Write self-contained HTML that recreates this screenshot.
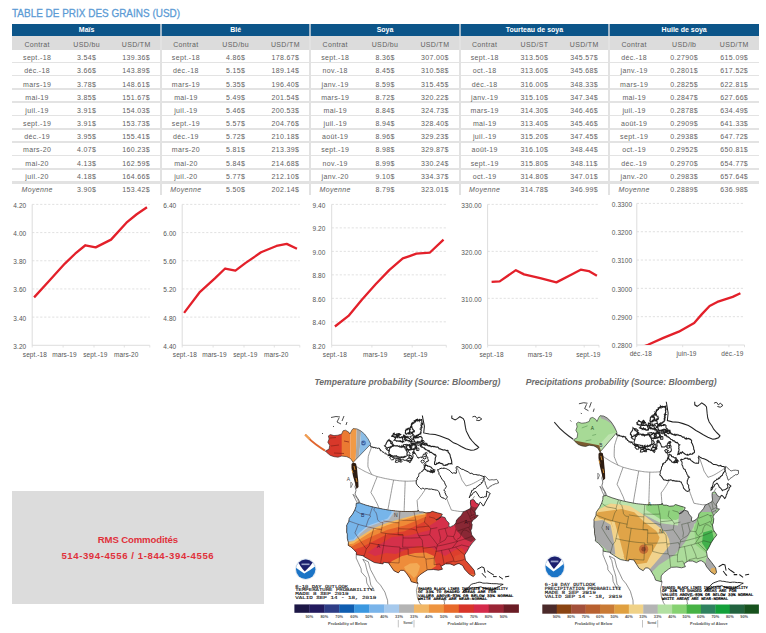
<!DOCTYPE html>
<html><head><meta charset="utf-8"><style>
html,body{margin:0;padding:0;background:#fff;width:766px;height:633px;overflow:hidden;position:relative}
.t{position:absolute;text-align:center;white-space:nowrap;font-family:"Liberation Sans", sans-serif}
svg text{font-family:"Liberation Sans", sans-serif}
.ax{font-size:6.5px;fill:#555;letter-spacing:0.08px}
.cap{font-size:8.6px;font-weight:bold;font-style:italic;fill:#6b6b6b}
</style></head><body>
<div style="position:absolute;left:12.30px;top:23.90px;width:747.00px;height:11.80px;background:#0c5589;"></div><div style="position:absolute;left:12.30px;top:35.70px;width:747.00px;height:14.10px;background:#dcdcdc;"></div><div style="position:absolute;left:12.30px;top:61.50px;width:747.00px;height:1.40px;background:#e3e3e3;"></div><div style="position:absolute;left:12.30px;top:74.83px;width:747.00px;height:1.40px;background:#e3e3e3;"></div><div style="position:absolute;left:12.30px;top:88.16px;width:747.00px;height:1.40px;background:#e3e3e3;"></div><div style="position:absolute;left:12.30px;top:101.49px;width:747.00px;height:1.40px;background:#e3e3e3;"></div><div style="position:absolute;left:12.30px;top:114.82px;width:747.00px;height:1.40px;background:#e3e3e3;"></div><div style="position:absolute;left:12.30px;top:128.15px;width:747.00px;height:1.40px;background:#e3e3e3;"></div><div style="position:absolute;left:12.30px;top:141.48px;width:747.00px;height:1.40px;background:#e3e3e3;"></div><div style="position:absolute;left:12.30px;top:154.81px;width:747.00px;height:1.40px;background:#e3e3e3;"></div><div style="position:absolute;left:12.30px;top:168.14px;width:747.00px;height:1.40px;background:#e3e3e3;"></div><div style="position:absolute;left:12.30px;top:180.77px;width:747.00px;height:2.80px;background:#e2e2e2;"></div><div style="position:absolute;left:160.10px;top:23.90px;width:1.80px;height:11.80px;background:#9fb6c8;"></div><div style="position:absolute;left:160.10px;top:35.70px;width:1.80px;height:159.80px;background:#e2e2e2;"></div><div style="position:absolute;left:309.40px;top:23.90px;width:1.80px;height:11.80px;background:#9fb6c8;"></div><div style="position:absolute;left:309.40px;top:35.70px;width:1.80px;height:159.80px;background:#e2e2e2;"></div><div style="position:absolute;left:458.90px;top:23.90px;width:1.80px;height:11.80px;background:#9fb6c8;"></div><div style="position:absolute;left:458.90px;top:35.70px;width:1.80px;height:159.80px;background:#e2e2e2;"></div><div style="position:absolute;left:608.20px;top:23.90px;width:1.80px;height:11.80px;background:#9fb6c8;"></div><div style="position:absolute;left:608.20px;top:35.70px;width:1.80px;height:159.80px;background:#e2e2e2;"></div><div class="t" style="left:12.30px;top:23.90px;width:148.70px;height:11.80px;line-height:11.80px;color:#fff;font-weight:bold;font-size:7px;">Maïs</div><div class="t" style="left:12.30px;top:37.50px;width:49.57px;height:14.10px;line-height:14.10px;color:#626262;font-size:7px;letter-spacing:0.35px;">Contrat</div><div class="t" style="left:61.87px;top:37.50px;width:49.57px;height:14.10px;line-height:14.10px;color:#626262;font-size:7px;letter-spacing:0.35px;">USD/bu</div><div class="t" style="left:111.43px;top:37.50px;width:49.57px;height:14.10px;line-height:14.10px;color:#626262;font-size:7px;letter-spacing:0.35px;">USD/TM</div><div class="t" style="left:12.30px;top:51.30px;width:49.57px;height:13.33px;line-height:13.33px;color:#626262;font-size:7px;letter-spacing:0.35px;">sept.-18</div><div class="t" style="left:61.87px;top:51.30px;width:49.57px;height:13.33px;line-height:13.33px;color:#626262;font-size:7px;letter-spacing:0.35px;">3.54$</div><div class="t" style="left:111.43px;top:51.30px;width:49.57px;height:13.33px;line-height:13.33px;color:#626262;font-size:7px;letter-spacing:0.35px;">139.36$</div><div class="t" style="left:12.30px;top:64.47px;width:49.57px;height:13.33px;line-height:13.33px;color:#626262;font-size:7px;letter-spacing:0.35px;">déc.-18</div><div class="t" style="left:61.87px;top:64.47px;width:49.57px;height:13.33px;line-height:13.33px;color:#626262;font-size:7px;letter-spacing:0.35px;">3.66$</div><div class="t" style="left:111.43px;top:64.47px;width:49.57px;height:13.33px;line-height:13.33px;color:#626262;font-size:7px;letter-spacing:0.35px;">143.89$</div><div class="t" style="left:12.30px;top:77.64px;width:49.57px;height:13.33px;line-height:13.33px;color:#626262;font-size:7px;letter-spacing:0.35px;">mars-19</div><div class="t" style="left:61.87px;top:77.64px;width:49.57px;height:13.33px;line-height:13.33px;color:#626262;font-size:7px;letter-spacing:0.35px;">3.78$</div><div class="t" style="left:111.43px;top:77.64px;width:49.57px;height:13.33px;line-height:13.33px;color:#626262;font-size:7px;letter-spacing:0.35px;">148.61$</div><div class="t" style="left:12.30px;top:90.81px;width:49.57px;height:13.33px;line-height:13.33px;color:#626262;font-size:7px;letter-spacing:0.35px;">mai-19</div><div class="t" style="left:61.87px;top:90.81px;width:49.57px;height:13.33px;line-height:13.33px;color:#626262;font-size:7px;letter-spacing:0.35px;">3.85$</div><div class="t" style="left:111.43px;top:90.81px;width:49.57px;height:13.33px;line-height:13.33px;color:#626262;font-size:7px;letter-spacing:0.35px;">151.67$</div><div class="t" style="left:12.30px;top:103.98px;width:49.57px;height:13.33px;line-height:13.33px;color:#626262;font-size:7px;letter-spacing:0.35px;">juil.-19</div><div class="t" style="left:61.87px;top:103.98px;width:49.57px;height:13.33px;line-height:13.33px;color:#626262;font-size:7px;letter-spacing:0.35px;">3.91$</div><div class="t" style="left:111.43px;top:103.98px;width:49.57px;height:13.33px;line-height:13.33px;color:#626262;font-size:7px;letter-spacing:0.35px;">154.03$</div><div class="t" style="left:12.30px;top:117.15px;width:49.57px;height:13.33px;line-height:13.33px;color:#626262;font-size:7px;letter-spacing:0.35px;">sept.-19</div><div class="t" style="left:61.87px;top:117.15px;width:49.57px;height:13.33px;line-height:13.33px;color:#626262;font-size:7px;letter-spacing:0.35px;">3.91$</div><div class="t" style="left:111.43px;top:117.15px;width:49.57px;height:13.33px;line-height:13.33px;color:#626262;font-size:7px;letter-spacing:0.35px;">153.73$</div><div class="t" style="left:12.30px;top:130.32px;width:49.57px;height:13.33px;line-height:13.33px;color:#626262;font-size:7px;letter-spacing:0.35px;">déc.-19</div><div class="t" style="left:61.87px;top:130.32px;width:49.57px;height:13.33px;line-height:13.33px;color:#626262;font-size:7px;letter-spacing:0.35px;">3.95$</div><div class="t" style="left:111.43px;top:130.32px;width:49.57px;height:13.33px;line-height:13.33px;color:#626262;font-size:7px;letter-spacing:0.35px;">155.41$</div><div class="t" style="left:12.30px;top:143.49px;width:49.57px;height:13.33px;line-height:13.33px;color:#626262;font-size:7px;letter-spacing:0.35px;">mars-20</div><div class="t" style="left:61.87px;top:143.49px;width:49.57px;height:13.33px;line-height:13.33px;color:#626262;font-size:7px;letter-spacing:0.35px;">4.07$</div><div class="t" style="left:111.43px;top:143.49px;width:49.57px;height:13.33px;line-height:13.33px;color:#626262;font-size:7px;letter-spacing:0.35px;">160.23$</div><div class="t" style="left:12.30px;top:156.66px;width:49.57px;height:13.33px;line-height:13.33px;color:#626262;font-size:7px;letter-spacing:0.35px;">mai-20</div><div class="t" style="left:61.87px;top:156.66px;width:49.57px;height:13.33px;line-height:13.33px;color:#626262;font-size:7px;letter-spacing:0.35px;">4.13$</div><div class="t" style="left:111.43px;top:156.66px;width:49.57px;height:13.33px;line-height:13.33px;color:#626262;font-size:7px;letter-spacing:0.35px;">162.59$</div><div class="t" style="left:12.30px;top:169.83px;width:49.57px;height:13.33px;line-height:13.33px;color:#626262;font-size:7px;letter-spacing:0.35px;">juil.-20</div><div class="t" style="left:61.87px;top:169.83px;width:49.57px;height:13.33px;line-height:13.33px;color:#626262;font-size:7px;letter-spacing:0.35px;">4.18$</div><div class="t" style="left:111.43px;top:169.83px;width:49.57px;height:13.33px;line-height:13.33px;color:#626262;font-size:7px;letter-spacing:0.35px;">164.66$</div><div class="t" style="left:12.30px;top:183.00px;width:49.57px;height:13.33px;line-height:13.33px;color:#626262;font-size:7px;letter-spacing:0.35px;font-style:italic;">Moyenne</div><div class="t" style="left:61.87px;top:183.00px;width:49.57px;height:13.33px;line-height:13.33px;color:#626262;font-size:7px;letter-spacing:0.35px;">3.90$</div><div class="t" style="left:111.43px;top:183.00px;width:49.57px;height:13.33px;line-height:13.33px;color:#626262;font-size:7px;letter-spacing:0.35px;">153.42$</div><div class="t" style="left:161.00px;top:23.90px;width:149.30px;height:11.80px;line-height:11.80px;color:#fff;font-weight:bold;font-size:7px;">Blé</div><div class="t" style="left:161.00px;top:37.50px;width:49.77px;height:14.10px;line-height:14.10px;color:#626262;font-size:7px;letter-spacing:0.35px;">Contrat</div><div class="t" style="left:210.77px;top:37.50px;width:49.77px;height:14.10px;line-height:14.10px;color:#626262;font-size:7px;letter-spacing:0.35px;">USD/bu</div><div class="t" style="left:260.53px;top:37.50px;width:49.77px;height:14.10px;line-height:14.10px;color:#626262;font-size:7px;letter-spacing:0.35px;">USD/TM</div><div class="t" style="left:161.00px;top:51.30px;width:49.77px;height:13.33px;line-height:13.33px;color:#626262;font-size:7px;letter-spacing:0.35px;">sept.-18</div><div class="t" style="left:210.77px;top:51.30px;width:49.77px;height:13.33px;line-height:13.33px;color:#626262;font-size:7px;letter-spacing:0.35px;">4.86$</div><div class="t" style="left:260.53px;top:51.30px;width:49.77px;height:13.33px;line-height:13.33px;color:#626262;font-size:7px;letter-spacing:0.35px;">178.67$</div><div class="t" style="left:161.00px;top:64.47px;width:49.77px;height:13.33px;line-height:13.33px;color:#626262;font-size:7px;letter-spacing:0.35px;">déc.-18</div><div class="t" style="left:210.77px;top:64.47px;width:49.77px;height:13.33px;line-height:13.33px;color:#626262;font-size:7px;letter-spacing:0.35px;">5.15$</div><div class="t" style="left:260.53px;top:64.47px;width:49.77px;height:13.33px;line-height:13.33px;color:#626262;font-size:7px;letter-spacing:0.35px;">189.14$</div><div class="t" style="left:161.00px;top:77.64px;width:49.77px;height:13.33px;line-height:13.33px;color:#626262;font-size:7px;letter-spacing:0.35px;">mars-19</div><div class="t" style="left:210.77px;top:77.64px;width:49.77px;height:13.33px;line-height:13.33px;color:#626262;font-size:7px;letter-spacing:0.35px;">5.35$</div><div class="t" style="left:260.53px;top:77.64px;width:49.77px;height:13.33px;line-height:13.33px;color:#626262;font-size:7px;letter-spacing:0.35px;">196.40$</div><div class="t" style="left:161.00px;top:90.81px;width:49.77px;height:13.33px;line-height:13.33px;color:#626262;font-size:7px;letter-spacing:0.35px;">mai-19</div><div class="t" style="left:210.77px;top:90.81px;width:49.77px;height:13.33px;line-height:13.33px;color:#626262;font-size:7px;letter-spacing:0.35px;">5.49$</div><div class="t" style="left:260.53px;top:90.81px;width:49.77px;height:13.33px;line-height:13.33px;color:#626262;font-size:7px;letter-spacing:0.35px;">201.54$</div><div class="t" style="left:161.00px;top:103.98px;width:49.77px;height:13.33px;line-height:13.33px;color:#626262;font-size:7px;letter-spacing:0.35px;">juil.-19</div><div class="t" style="left:210.77px;top:103.98px;width:49.77px;height:13.33px;line-height:13.33px;color:#626262;font-size:7px;letter-spacing:0.35px;">5.46$</div><div class="t" style="left:260.53px;top:103.98px;width:49.77px;height:13.33px;line-height:13.33px;color:#626262;font-size:7px;letter-spacing:0.35px;">200.53$</div><div class="t" style="left:161.00px;top:117.15px;width:49.77px;height:13.33px;line-height:13.33px;color:#626262;font-size:7px;letter-spacing:0.35px;">sept.-19</div><div class="t" style="left:210.77px;top:117.15px;width:49.77px;height:13.33px;line-height:13.33px;color:#626262;font-size:7px;letter-spacing:0.35px;">5.57$</div><div class="t" style="left:260.53px;top:117.15px;width:49.77px;height:13.33px;line-height:13.33px;color:#626262;font-size:7px;letter-spacing:0.35px;">204.76$</div><div class="t" style="left:161.00px;top:130.32px;width:49.77px;height:13.33px;line-height:13.33px;color:#626262;font-size:7px;letter-spacing:0.35px;">déc.-19</div><div class="t" style="left:210.77px;top:130.32px;width:49.77px;height:13.33px;line-height:13.33px;color:#626262;font-size:7px;letter-spacing:0.35px;">5.72$</div><div class="t" style="left:260.53px;top:130.32px;width:49.77px;height:13.33px;line-height:13.33px;color:#626262;font-size:7px;letter-spacing:0.35px;">210.18$</div><div class="t" style="left:161.00px;top:143.49px;width:49.77px;height:13.33px;line-height:13.33px;color:#626262;font-size:7px;letter-spacing:0.35px;">mars-20</div><div class="t" style="left:210.77px;top:143.49px;width:49.77px;height:13.33px;line-height:13.33px;color:#626262;font-size:7px;letter-spacing:0.35px;">5.81$</div><div class="t" style="left:260.53px;top:143.49px;width:49.77px;height:13.33px;line-height:13.33px;color:#626262;font-size:7px;letter-spacing:0.35px;">213.39$</div><div class="t" style="left:161.00px;top:156.66px;width:49.77px;height:13.33px;line-height:13.33px;color:#626262;font-size:7px;letter-spacing:0.35px;">mai-20</div><div class="t" style="left:210.77px;top:156.66px;width:49.77px;height:13.33px;line-height:13.33px;color:#626262;font-size:7px;letter-spacing:0.35px;">5.84$</div><div class="t" style="left:260.53px;top:156.66px;width:49.77px;height:13.33px;line-height:13.33px;color:#626262;font-size:7px;letter-spacing:0.35px;">214.68$</div><div class="t" style="left:161.00px;top:169.83px;width:49.77px;height:13.33px;line-height:13.33px;color:#626262;font-size:7px;letter-spacing:0.35px;">juil.-20</div><div class="t" style="left:210.77px;top:169.83px;width:49.77px;height:13.33px;line-height:13.33px;color:#626262;font-size:7px;letter-spacing:0.35px;">5.77$</div><div class="t" style="left:260.53px;top:169.83px;width:49.77px;height:13.33px;line-height:13.33px;color:#626262;font-size:7px;letter-spacing:0.35px;">212.10$</div><div class="t" style="left:161.00px;top:183.00px;width:49.77px;height:13.33px;line-height:13.33px;color:#626262;font-size:7px;letter-spacing:0.35px;font-style:italic;">Moyenne</div><div class="t" style="left:210.77px;top:183.00px;width:49.77px;height:13.33px;line-height:13.33px;color:#626262;font-size:7px;letter-spacing:0.35px;">5.50$</div><div class="t" style="left:260.53px;top:183.00px;width:49.77px;height:13.33px;line-height:13.33px;color:#626262;font-size:7px;letter-spacing:0.35px;">202.14$</div><div class="t" style="left:310.30px;top:23.90px;width:149.50px;height:11.80px;line-height:11.80px;color:#fff;font-weight:bold;font-size:7px;">Soya</div><div class="t" style="left:310.30px;top:37.50px;width:49.83px;height:14.10px;line-height:14.10px;color:#626262;font-size:7px;letter-spacing:0.35px;">Contrat</div><div class="t" style="left:360.13px;top:37.50px;width:49.83px;height:14.10px;line-height:14.10px;color:#626262;font-size:7px;letter-spacing:0.35px;">USD/bu</div><div class="t" style="left:409.97px;top:37.50px;width:49.83px;height:14.10px;line-height:14.10px;color:#626262;font-size:7px;letter-spacing:0.35px;">USD/TM</div><div class="t" style="left:310.30px;top:51.30px;width:49.83px;height:13.33px;line-height:13.33px;color:#626262;font-size:7px;letter-spacing:0.35px;">sept.-18</div><div class="t" style="left:360.13px;top:51.30px;width:49.83px;height:13.33px;line-height:13.33px;color:#626262;font-size:7px;letter-spacing:0.35px;">8.36$</div><div class="t" style="left:409.97px;top:51.30px;width:49.83px;height:13.33px;line-height:13.33px;color:#626262;font-size:7px;letter-spacing:0.35px;">307.00$</div><div class="t" style="left:310.30px;top:64.47px;width:49.83px;height:13.33px;line-height:13.33px;color:#626262;font-size:7px;letter-spacing:0.35px;">nov.-18</div><div class="t" style="left:360.13px;top:64.47px;width:49.83px;height:13.33px;line-height:13.33px;color:#626262;font-size:7px;letter-spacing:0.35px;">8.45$</div><div class="t" style="left:409.97px;top:64.47px;width:49.83px;height:13.33px;line-height:13.33px;color:#626262;font-size:7px;letter-spacing:0.35px;">310.58$</div><div class="t" style="left:310.30px;top:77.64px;width:49.83px;height:13.33px;line-height:13.33px;color:#626262;font-size:7px;letter-spacing:0.35px;">janv.-19</div><div class="t" style="left:360.13px;top:77.64px;width:49.83px;height:13.33px;line-height:13.33px;color:#626262;font-size:7px;letter-spacing:0.35px;">8.59$</div><div class="t" style="left:409.97px;top:77.64px;width:49.83px;height:13.33px;line-height:13.33px;color:#626262;font-size:7px;letter-spacing:0.35px;">315.45$</div><div class="t" style="left:310.30px;top:90.81px;width:49.83px;height:13.33px;line-height:13.33px;color:#626262;font-size:7px;letter-spacing:0.35px;">mars-19</div><div class="t" style="left:360.13px;top:90.81px;width:49.83px;height:13.33px;line-height:13.33px;color:#626262;font-size:7px;letter-spacing:0.35px;">8.72$</div><div class="t" style="left:409.97px;top:90.81px;width:49.83px;height:13.33px;line-height:13.33px;color:#626262;font-size:7px;letter-spacing:0.35px;">320.22$</div><div class="t" style="left:310.30px;top:103.98px;width:49.83px;height:13.33px;line-height:13.33px;color:#626262;font-size:7px;letter-spacing:0.35px;">mai-19</div><div class="t" style="left:360.13px;top:103.98px;width:49.83px;height:13.33px;line-height:13.33px;color:#626262;font-size:7px;letter-spacing:0.35px;">8.84$</div><div class="t" style="left:409.97px;top:103.98px;width:49.83px;height:13.33px;line-height:13.33px;color:#626262;font-size:7px;letter-spacing:0.35px;">324.73$</div><div class="t" style="left:310.30px;top:117.15px;width:49.83px;height:13.33px;line-height:13.33px;color:#626262;font-size:7px;letter-spacing:0.35px;">juil.-19</div><div class="t" style="left:360.13px;top:117.15px;width:49.83px;height:13.33px;line-height:13.33px;color:#626262;font-size:7px;letter-spacing:0.35px;">8.94$</div><div class="t" style="left:409.97px;top:117.15px;width:49.83px;height:13.33px;line-height:13.33px;color:#626262;font-size:7px;letter-spacing:0.35px;">328.40$</div><div class="t" style="left:310.30px;top:130.32px;width:49.83px;height:13.33px;line-height:13.33px;color:#626262;font-size:7px;letter-spacing:0.35px;">août-19</div><div class="t" style="left:360.13px;top:130.32px;width:49.83px;height:13.33px;line-height:13.33px;color:#626262;font-size:7px;letter-spacing:0.35px;">8.96$</div><div class="t" style="left:409.97px;top:130.32px;width:49.83px;height:13.33px;line-height:13.33px;color:#626262;font-size:7px;letter-spacing:0.35px;">329.23$</div><div class="t" style="left:310.30px;top:143.49px;width:49.83px;height:13.33px;line-height:13.33px;color:#626262;font-size:7px;letter-spacing:0.35px;">sept.-19</div><div class="t" style="left:360.13px;top:143.49px;width:49.83px;height:13.33px;line-height:13.33px;color:#626262;font-size:7px;letter-spacing:0.35px;">8.98$</div><div class="t" style="left:409.97px;top:143.49px;width:49.83px;height:13.33px;line-height:13.33px;color:#626262;font-size:7px;letter-spacing:0.35px;">329.87$</div><div class="t" style="left:310.30px;top:156.66px;width:49.83px;height:13.33px;line-height:13.33px;color:#626262;font-size:7px;letter-spacing:0.35px;">nov.-19</div><div class="t" style="left:360.13px;top:156.66px;width:49.83px;height:13.33px;line-height:13.33px;color:#626262;font-size:7px;letter-spacing:0.35px;">8.99$</div><div class="t" style="left:409.97px;top:156.66px;width:49.83px;height:13.33px;line-height:13.33px;color:#626262;font-size:7px;letter-spacing:0.35px;">330.24$</div><div class="t" style="left:310.30px;top:169.83px;width:49.83px;height:13.33px;line-height:13.33px;color:#626262;font-size:7px;letter-spacing:0.35px;">janv.-20</div><div class="t" style="left:360.13px;top:169.83px;width:49.83px;height:13.33px;line-height:13.33px;color:#626262;font-size:7px;letter-spacing:0.35px;">9.10$</div><div class="t" style="left:409.97px;top:169.83px;width:49.83px;height:13.33px;line-height:13.33px;color:#626262;font-size:7px;letter-spacing:0.35px;">334.37$</div><div class="t" style="left:310.30px;top:183.00px;width:49.83px;height:13.33px;line-height:13.33px;color:#626262;font-size:7px;letter-spacing:0.35px;font-style:italic;">Moyenne</div><div class="t" style="left:360.13px;top:183.00px;width:49.83px;height:13.33px;line-height:13.33px;color:#626262;font-size:7px;letter-spacing:0.35px;">8.79$</div><div class="t" style="left:409.97px;top:183.00px;width:49.83px;height:13.33px;line-height:13.33px;color:#626262;font-size:7px;letter-spacing:0.35px;">323.01$</div><div class="t" style="left:459.80px;top:23.90px;width:149.30px;height:11.80px;line-height:11.80px;color:#fff;font-weight:bold;font-size:7px;">Tourteau de soya</div><div class="t" style="left:459.80px;top:37.50px;width:49.77px;height:14.10px;line-height:14.10px;color:#626262;font-size:7px;letter-spacing:0.35px;">Contrat</div><div class="t" style="left:509.57px;top:37.50px;width:49.77px;height:14.10px;line-height:14.10px;color:#626262;font-size:7px;letter-spacing:0.35px;">USD/ST</div><div class="t" style="left:559.33px;top:37.50px;width:49.77px;height:14.10px;line-height:14.10px;color:#626262;font-size:7px;letter-spacing:0.35px;">USD/TM</div><div class="t" style="left:459.80px;top:51.30px;width:49.77px;height:13.33px;line-height:13.33px;color:#626262;font-size:7px;letter-spacing:0.35px;">sept.-18</div><div class="t" style="left:509.57px;top:51.30px;width:49.77px;height:13.33px;line-height:13.33px;color:#626262;font-size:7px;letter-spacing:0.35px;">313.50$</div><div class="t" style="left:559.33px;top:51.30px;width:49.77px;height:13.33px;line-height:13.33px;color:#626262;font-size:7px;letter-spacing:0.35px;">345.57$</div><div class="t" style="left:459.80px;top:64.47px;width:49.77px;height:13.33px;line-height:13.33px;color:#626262;font-size:7px;letter-spacing:0.35px;">oct.-18</div><div class="t" style="left:509.57px;top:64.47px;width:49.77px;height:13.33px;line-height:13.33px;color:#626262;font-size:7px;letter-spacing:0.35px;">313.60$</div><div class="t" style="left:559.33px;top:64.47px;width:49.77px;height:13.33px;line-height:13.33px;color:#626262;font-size:7px;letter-spacing:0.35px;">345.68$</div><div class="t" style="left:459.80px;top:77.64px;width:49.77px;height:13.33px;line-height:13.33px;color:#626262;font-size:7px;letter-spacing:0.35px;">déc.-18</div><div class="t" style="left:509.57px;top:77.64px;width:49.77px;height:13.33px;line-height:13.33px;color:#626262;font-size:7px;letter-spacing:0.35px;">316.00$</div><div class="t" style="left:559.33px;top:77.64px;width:49.77px;height:13.33px;line-height:13.33px;color:#626262;font-size:7px;letter-spacing:0.35px;">348.33$</div><div class="t" style="left:459.80px;top:90.81px;width:49.77px;height:13.33px;line-height:13.33px;color:#626262;font-size:7px;letter-spacing:0.35px;">janv.-19</div><div class="t" style="left:509.57px;top:90.81px;width:49.77px;height:13.33px;line-height:13.33px;color:#626262;font-size:7px;letter-spacing:0.35px;">315.10$</div><div class="t" style="left:559.33px;top:90.81px;width:49.77px;height:13.33px;line-height:13.33px;color:#626262;font-size:7px;letter-spacing:0.35px;">347.34$</div><div class="t" style="left:459.80px;top:103.98px;width:49.77px;height:13.33px;line-height:13.33px;color:#626262;font-size:7px;letter-spacing:0.35px;">mars-19</div><div class="t" style="left:509.57px;top:103.98px;width:49.77px;height:13.33px;line-height:13.33px;color:#626262;font-size:7px;letter-spacing:0.35px;">314.30$</div><div class="t" style="left:559.33px;top:103.98px;width:49.77px;height:13.33px;line-height:13.33px;color:#626262;font-size:7px;letter-spacing:0.35px;">346.46$</div><div class="t" style="left:459.80px;top:117.15px;width:49.77px;height:13.33px;line-height:13.33px;color:#626262;font-size:7px;letter-spacing:0.35px;">mai-19</div><div class="t" style="left:509.57px;top:117.15px;width:49.77px;height:13.33px;line-height:13.33px;color:#626262;font-size:7px;letter-spacing:0.35px;">313.40$</div><div class="t" style="left:559.33px;top:117.15px;width:49.77px;height:13.33px;line-height:13.33px;color:#626262;font-size:7px;letter-spacing:0.35px;">345.46$</div><div class="t" style="left:459.80px;top:130.32px;width:49.77px;height:13.33px;line-height:13.33px;color:#626262;font-size:7px;letter-spacing:0.35px;">juil.-19</div><div class="t" style="left:509.57px;top:130.32px;width:49.77px;height:13.33px;line-height:13.33px;color:#626262;font-size:7px;letter-spacing:0.35px;">315.20$</div><div class="t" style="left:559.33px;top:130.32px;width:49.77px;height:13.33px;line-height:13.33px;color:#626262;font-size:7px;letter-spacing:0.35px;">347.45$</div><div class="t" style="left:459.80px;top:143.49px;width:49.77px;height:13.33px;line-height:13.33px;color:#626262;font-size:7px;letter-spacing:0.35px;">août-19</div><div class="t" style="left:509.57px;top:143.49px;width:49.77px;height:13.33px;line-height:13.33px;color:#626262;font-size:7px;letter-spacing:0.35px;">316.10$</div><div class="t" style="left:559.33px;top:143.49px;width:49.77px;height:13.33px;line-height:13.33px;color:#626262;font-size:7px;letter-spacing:0.35px;">348.44$</div><div class="t" style="left:459.80px;top:156.66px;width:49.77px;height:13.33px;line-height:13.33px;color:#626262;font-size:7px;letter-spacing:0.35px;">sept.-19</div><div class="t" style="left:509.57px;top:156.66px;width:49.77px;height:13.33px;line-height:13.33px;color:#626262;font-size:7px;letter-spacing:0.35px;">315.80$</div><div class="t" style="left:559.33px;top:156.66px;width:49.77px;height:13.33px;line-height:13.33px;color:#626262;font-size:7px;letter-spacing:0.35px;">348.11$</div><div class="t" style="left:459.80px;top:169.83px;width:49.77px;height:13.33px;line-height:13.33px;color:#626262;font-size:7px;letter-spacing:0.35px;">oct.-19</div><div class="t" style="left:509.57px;top:169.83px;width:49.77px;height:13.33px;line-height:13.33px;color:#626262;font-size:7px;letter-spacing:0.35px;">314.80$</div><div class="t" style="left:559.33px;top:169.83px;width:49.77px;height:13.33px;line-height:13.33px;color:#626262;font-size:7px;letter-spacing:0.35px;">347.01$</div><div class="t" style="left:459.80px;top:183.00px;width:49.77px;height:13.33px;line-height:13.33px;color:#626262;font-size:7px;letter-spacing:0.35px;font-style:italic;">Moyenne</div><div class="t" style="left:509.57px;top:183.00px;width:49.77px;height:13.33px;line-height:13.33px;color:#626262;font-size:7px;letter-spacing:0.35px;">314.78$</div><div class="t" style="left:559.33px;top:183.00px;width:49.77px;height:13.33px;line-height:13.33px;color:#626262;font-size:7px;letter-spacing:0.35px;">346.99$</div><div class="t" style="left:609.10px;top:23.90px;width:150.20px;height:11.80px;line-height:11.80px;color:#fff;font-weight:bold;font-size:7px;">Huile de soya</div><div class="t" style="left:609.10px;top:37.50px;width:50.07px;height:14.10px;line-height:14.10px;color:#626262;font-size:7px;letter-spacing:0.35px;">Contrat</div><div class="t" style="left:659.17px;top:37.50px;width:50.07px;height:14.10px;line-height:14.10px;color:#626262;font-size:7px;letter-spacing:0.35px;">USD/lb</div><div class="t" style="left:709.23px;top:37.50px;width:50.07px;height:14.10px;line-height:14.10px;color:#626262;font-size:7px;letter-spacing:0.35px;">USD/TM</div><div class="t" style="left:609.10px;top:51.30px;width:50.07px;height:13.33px;line-height:13.33px;color:#626262;font-size:7px;letter-spacing:0.35px;">déc.-18</div><div class="t" style="left:659.17px;top:51.30px;width:50.07px;height:13.33px;line-height:13.33px;color:#626262;font-size:7px;letter-spacing:0.35px;">0.2790$</div><div class="t" style="left:709.23px;top:51.30px;width:50.07px;height:13.33px;line-height:13.33px;color:#626262;font-size:7px;letter-spacing:0.35px;">615.09$</div><div class="t" style="left:609.10px;top:64.47px;width:50.07px;height:13.33px;line-height:13.33px;color:#626262;font-size:7px;letter-spacing:0.35px;">janv.-19</div><div class="t" style="left:659.17px;top:64.47px;width:50.07px;height:13.33px;line-height:13.33px;color:#626262;font-size:7px;letter-spacing:0.35px;">0.2801$</div><div class="t" style="left:709.23px;top:64.47px;width:50.07px;height:13.33px;line-height:13.33px;color:#626262;font-size:7px;letter-spacing:0.35px;">617.52$</div><div class="t" style="left:609.10px;top:77.64px;width:50.07px;height:13.33px;line-height:13.33px;color:#626262;font-size:7px;letter-spacing:0.35px;">mars-19</div><div class="t" style="left:659.17px;top:77.64px;width:50.07px;height:13.33px;line-height:13.33px;color:#626262;font-size:7px;letter-spacing:0.35px;">0.2825$</div><div class="t" style="left:709.23px;top:77.64px;width:50.07px;height:13.33px;line-height:13.33px;color:#626262;font-size:7px;letter-spacing:0.35px;">622.81$</div><div class="t" style="left:609.10px;top:90.81px;width:50.07px;height:13.33px;line-height:13.33px;color:#626262;font-size:7px;letter-spacing:0.35px;">mai-19</div><div class="t" style="left:659.17px;top:90.81px;width:50.07px;height:13.33px;line-height:13.33px;color:#626262;font-size:7px;letter-spacing:0.35px;">0.2847$</div><div class="t" style="left:709.23px;top:90.81px;width:50.07px;height:13.33px;line-height:13.33px;color:#626262;font-size:7px;letter-spacing:0.35px;">627.66$</div><div class="t" style="left:609.10px;top:103.98px;width:50.07px;height:13.33px;line-height:13.33px;color:#626262;font-size:7px;letter-spacing:0.35px;">juil.-19</div><div class="t" style="left:659.17px;top:103.98px;width:50.07px;height:13.33px;line-height:13.33px;color:#626262;font-size:7px;letter-spacing:0.35px;">0.2878$</div><div class="t" style="left:709.23px;top:103.98px;width:50.07px;height:13.33px;line-height:13.33px;color:#626262;font-size:7px;letter-spacing:0.35px;">634.49$</div><div class="t" style="left:609.10px;top:117.15px;width:50.07px;height:13.33px;line-height:13.33px;color:#626262;font-size:7px;letter-spacing:0.35px;">août-19</div><div class="t" style="left:659.17px;top:117.15px;width:50.07px;height:13.33px;line-height:13.33px;color:#626262;font-size:7px;letter-spacing:0.35px;">0.2909$</div><div class="t" style="left:709.23px;top:117.15px;width:50.07px;height:13.33px;line-height:13.33px;color:#626262;font-size:7px;letter-spacing:0.35px;">641.33$</div><div class="t" style="left:609.10px;top:130.32px;width:50.07px;height:13.33px;line-height:13.33px;color:#626262;font-size:7px;letter-spacing:0.35px;">sept.-19</div><div class="t" style="left:659.17px;top:130.32px;width:50.07px;height:13.33px;line-height:13.33px;color:#626262;font-size:7px;letter-spacing:0.35px;">0.2938$</div><div class="t" style="left:709.23px;top:130.32px;width:50.07px;height:13.33px;line-height:13.33px;color:#626262;font-size:7px;letter-spacing:0.35px;">647.72$</div><div class="t" style="left:609.10px;top:143.49px;width:50.07px;height:13.33px;line-height:13.33px;color:#626262;font-size:7px;letter-spacing:0.35px;">oct.-19</div><div class="t" style="left:659.17px;top:143.49px;width:50.07px;height:13.33px;line-height:13.33px;color:#626262;font-size:7px;letter-spacing:0.35px;">0.2952$</div><div class="t" style="left:709.23px;top:143.49px;width:50.07px;height:13.33px;line-height:13.33px;color:#626262;font-size:7px;letter-spacing:0.35px;">650.81$</div><div class="t" style="left:609.10px;top:156.66px;width:50.07px;height:13.33px;line-height:13.33px;color:#626262;font-size:7px;letter-spacing:0.35px;">déc.-19</div><div class="t" style="left:659.17px;top:156.66px;width:50.07px;height:13.33px;line-height:13.33px;color:#626262;font-size:7px;letter-spacing:0.35px;">0.2970$</div><div class="t" style="left:709.23px;top:156.66px;width:50.07px;height:13.33px;line-height:13.33px;color:#626262;font-size:7px;letter-spacing:0.35px;">654.77$</div><div class="t" style="left:609.10px;top:169.83px;width:50.07px;height:13.33px;line-height:13.33px;color:#626262;font-size:7px;letter-spacing:0.35px;">janv.-20</div><div class="t" style="left:659.17px;top:169.83px;width:50.07px;height:13.33px;line-height:13.33px;color:#626262;font-size:7px;letter-spacing:0.35px;">0.2983$</div><div class="t" style="left:709.23px;top:169.83px;width:50.07px;height:13.33px;line-height:13.33px;color:#626262;font-size:7px;letter-spacing:0.35px;">657.64$</div><div class="t" style="left:609.10px;top:183.00px;width:50.07px;height:13.33px;line-height:13.33px;color:#626262;font-size:7px;letter-spacing:0.35px;font-style:italic;">Moyenne</div><div class="t" style="left:659.17px;top:183.00px;width:50.07px;height:13.33px;line-height:13.33px;color:#626262;font-size:7px;letter-spacing:0.35px;">0.2889$</div><div class="t" style="left:709.23px;top:183.00px;width:50.07px;height:13.33px;line-height:13.33px;color:#626262;font-size:7px;letter-spacing:0.35px;">636.98$</div><div class="t" style="left:11.7px;top:5.6px;height:14px;line-height:14px;font-size:11.5px;color:#5b9bd5;white-space:nowrap;text-align:left;transform:scaleX(0.866);transform-origin:0 0;-webkit-text-stroke:0.3px #5b9bd5">TABLE DE PRIX DES GRAINS (USD)</div><svg width="766" height="633" style="position:absolute;left:0;top:0"><text x="26.3" y="348.70" text-anchor="end" class="ax">3.20</text><line x1="32.2" y1="317.12" x2="149.8" y2="317.12" stroke="#d4d4d4" stroke-width="0.7" stroke-dasharray="2.2,1.8"/><text x="26.3" y="320.52" text-anchor="end" class="ax">3.40</text><line x1="32.2" y1="288.94" x2="149.8" y2="288.94" stroke="#d4d4d4" stroke-width="0.7" stroke-dasharray="2.2,1.8"/><text x="26.3" y="292.34" text-anchor="end" class="ax">3.60</text><line x1="32.2" y1="260.76" x2="149.8" y2="260.76" stroke="#d4d4d4" stroke-width="0.7" stroke-dasharray="2.2,1.8"/><text x="26.3" y="264.16" text-anchor="end" class="ax">3.80</text><line x1="32.2" y1="232.58" x2="149.8" y2="232.58" stroke="#d4d4d4" stroke-width="0.7" stroke-dasharray="2.2,1.8"/><text x="26.3" y="235.98" text-anchor="end" class="ax">4.00</text><line x1="32.2" y1="204.40" x2="149.8" y2="204.40" stroke="#d4d4d4" stroke-width="0.7" stroke-dasharray="2.2,1.8"/><text x="26.3" y="207.80" text-anchor="end" class="ax">4.20</text><line x1="32.2" y1="204.4" x2="32.2" y2="345.3" stroke="#d9d9d9" stroke-width="0.9"/><line x1="32.2" y1="345.3" x2="149.8" y2="345.3" stroke="#d9d9d9" stroke-width="0.9"/><line x1="32.2" y1="345.3" x2="32.2" y2="347.5" stroke="#d9d9d9" stroke-width="0.8"/><line x1="63.1" y1="345.3" x2="63.1" y2="347.5" stroke="#d9d9d9" stroke-width="0.8"/><line x1="94.0" y1="345.3" x2="94.0" y2="347.5" stroke="#d9d9d9" stroke-width="0.8"/><line x1="124.3" y1="345.3" x2="124.3" y2="347.5" stroke="#d9d9d9" stroke-width="0.8"/><line x1="149.8" y1="345.3" x2="149.8" y2="347.5" stroke="#d9d9d9" stroke-width="0.8"/><text x="34.9" y="356.90" text-anchor="middle" class="ax">sept.-18</text><text x="64.4" y="356.90" text-anchor="middle" class="ax">mars-19</text><text x="95.3" y="356.90" text-anchor="middle" class="ax">sept.-19</text><text x="126.2" y="356.90" text-anchor="middle" class="ax">mars-20</text><clipPath id="cp0"><rect x="32.2" y="201.4" width="120.60000000000001" height="143.9"/></clipPath><polyline points="34.10,297.39 49.49,280.49 64.88,263.58 75.14,253.72 85.40,245.26 95.66,247.37 111.05,239.62 126.44,222.72 136.70,214.26 146.96,207.22" fill="none" stroke="#e3202a" stroke-width="2.3" stroke-linejoin="round" clip-path="url(#cp0)"/><text x="176.3" y="348.70" text-anchor="end" class="ax">4.40</text><line x1="182.2" y1="317.12" x2="299.8" y2="317.12" stroke="#d4d4d4" stroke-width="0.7" stroke-dasharray="2.2,1.8"/><text x="176.3" y="320.52" text-anchor="end" class="ax">4.80</text><line x1="182.2" y1="288.94" x2="299.8" y2="288.94" stroke="#d4d4d4" stroke-width="0.7" stroke-dasharray="2.2,1.8"/><text x="176.3" y="292.34" text-anchor="end" class="ax">5.20</text><line x1="182.2" y1="260.76" x2="299.8" y2="260.76" stroke="#d4d4d4" stroke-width="0.7" stroke-dasharray="2.2,1.8"/><text x="176.3" y="264.16" text-anchor="end" class="ax">5.60</text><line x1="182.2" y1="232.58" x2="299.8" y2="232.58" stroke="#d4d4d4" stroke-width="0.7" stroke-dasharray="2.2,1.8"/><text x="176.3" y="235.98" text-anchor="end" class="ax">6.00</text><line x1="182.2" y1="204.40" x2="299.8" y2="204.40" stroke="#d4d4d4" stroke-width="0.7" stroke-dasharray="2.2,1.8"/><text x="176.3" y="207.80" text-anchor="end" class="ax">6.40</text><line x1="182.2" y1="204.4" x2="182.2" y2="345.3" stroke="#d9d9d9" stroke-width="0.9"/><line x1="182.2" y1="345.3" x2="299.8" y2="345.3" stroke="#d9d9d9" stroke-width="0.9"/><line x1="182.2" y1="345.3" x2="182.2" y2="347.5" stroke="#d9d9d9" stroke-width="0.8"/><line x1="213.1" y1="345.3" x2="213.1" y2="347.5" stroke="#d9d9d9" stroke-width="0.8"/><line x1="244.0" y1="345.3" x2="244.0" y2="347.5" stroke="#d9d9d9" stroke-width="0.8"/><line x1="274.3" y1="345.3" x2="274.3" y2="347.5" stroke="#d9d9d9" stroke-width="0.8"/><line x1="299.8" y1="345.3" x2="299.8" y2="347.5" stroke="#d9d9d9" stroke-width="0.8"/><text x="184.9" y="356.90" text-anchor="middle" class="ax">sept.-18</text><text x="214.4" y="356.90" text-anchor="middle" class="ax">mars-19</text><text x="245.3" y="356.90" text-anchor="middle" class="ax">sept.-19</text><text x="276.2" y="356.90" text-anchor="middle" class="ax">mars-20</text><clipPath id="cp1"><rect x="182.2" y="201.4" width="120.60000000000002" height="143.9"/></clipPath><polyline points="184.10,312.89 199.49,292.46 214.88,278.37 225.14,268.51 235.40,270.62 245.66,262.87 261.05,252.31 276.44,245.97 286.70,243.85 296.96,248.78" fill="none" stroke="#e3202a" stroke-width="2.3" stroke-linejoin="round" clip-path="url(#cp1)"/><text x="325.5" y="348.70" text-anchor="end" class="ax">8.20</text><line x1="331.7" y1="321.82" x2="446.3" y2="321.82" stroke="#d4d4d4" stroke-width="0.7" stroke-dasharray="2.2,1.8"/><text x="325.5" y="325.22" text-anchor="end" class="ax">8.40</text><line x1="331.7" y1="298.33" x2="446.3" y2="298.33" stroke="#d4d4d4" stroke-width="0.7" stroke-dasharray="2.2,1.8"/><text x="325.5" y="301.73" text-anchor="end" class="ax">8.60</text><line x1="331.7" y1="274.85" x2="446.3" y2="274.85" stroke="#d4d4d4" stroke-width="0.7" stroke-dasharray="2.2,1.8"/><text x="325.5" y="278.25" text-anchor="end" class="ax">8.80</text><line x1="331.7" y1="251.37" x2="446.3" y2="251.37" stroke="#d4d4d4" stroke-width="0.7" stroke-dasharray="2.2,1.8"/><text x="325.5" y="254.77" text-anchor="end" class="ax">9.00</text><line x1="331.7" y1="227.88" x2="446.3" y2="227.88" stroke="#d4d4d4" stroke-width="0.7" stroke-dasharray="2.2,1.8"/><text x="325.5" y="231.28" text-anchor="end" class="ax">9.20</text><line x1="331.7" y1="204.40" x2="446.3" y2="204.40" stroke="#d4d4d4" stroke-width="0.7" stroke-dasharray="2.2,1.8"/><text x="325.5" y="207.80" text-anchor="end" class="ax">9.40</text><line x1="331.7" y1="204.4" x2="331.7" y2="345.3" stroke="#d9d9d9" stroke-width="0.9"/><line x1="331.7" y1="345.3" x2="446.3" y2="345.3" stroke="#d9d9d9" stroke-width="0.9"/><line x1="331.7" y1="345.3" x2="331.7" y2="347.5" stroke="#d9d9d9" stroke-width="0.8"/><line x1="371.9" y1="345.3" x2="371.9" y2="347.5" stroke="#d9d9d9" stroke-width="0.8"/><line x1="412.2" y1="345.3" x2="412.2" y2="347.5" stroke="#d9d9d9" stroke-width="0.8"/><line x1="446.3" y1="345.3" x2="446.3" y2="347.5" stroke="#d9d9d9" stroke-width="0.8"/><text x="334.9" y="356.90" text-anchor="middle" class="ax">sept.-18</text><text x="375.2" y="356.90" text-anchor="middle" class="ax">mars-19</text><text x="415.5" y="356.90" text-anchor="middle" class="ax">sept.-19</text><clipPath id="cp2"><rect x="331.7" y="201.4" width="117.60000000000002" height="143.9"/></clipPath><polyline points="334.90,326.51 348.48,315.95 362.06,299.51 375.64,284.24 389.22,270.15 402.80,258.41 409.59,256.06 416.38,253.71 429.96,252.54 443.54,239.63" fill="none" stroke="#e3202a" stroke-width="2.3" stroke-linejoin="round" clip-path="url(#cp2)"/><text x="481.7" y="348.70" text-anchor="end" class="ax">300.00</text><line x1="487.6" y1="298.33" x2="599.0" y2="298.33" stroke="#d4d4d4" stroke-width="0.7" stroke-dasharray="2.2,1.8"/><text x="481.7" y="301.73" text-anchor="end" class="ax">310.00</text><line x1="487.6" y1="251.37" x2="599.0" y2="251.37" stroke="#d4d4d4" stroke-width="0.7" stroke-dasharray="2.2,1.8"/><text x="481.7" y="254.77" text-anchor="end" class="ax">320.00</text><line x1="487.6" y1="204.40" x2="599.0" y2="204.40" stroke="#d4d4d4" stroke-width="0.7" stroke-dasharray="2.2,1.8"/><text x="481.7" y="207.80" text-anchor="end" class="ax">330.00</text><line x1="487.6" y1="204.4" x2="487.6" y2="345.3" stroke="#d9d9d9" stroke-width="0.9"/><line x1="487.6" y1="345.3" x2="599.0" y2="345.3" stroke="#d9d9d9" stroke-width="0.9"/><line x1="487.6" y1="345.3" x2="487.6" y2="347.5" stroke="#d9d9d9" stroke-width="0.8"/><line x1="535.9" y1="345.3" x2="535.9" y2="347.5" stroke="#d9d9d9" stroke-width="0.8"/><line x1="584.2" y1="345.3" x2="584.2" y2="347.5" stroke="#d9d9d9" stroke-width="0.8"/><line x1="599.0" y1="345.3" x2="599.0" y2="347.5" stroke="#d9d9d9" stroke-width="0.8"/><text x="491.6" y="356.90" text-anchor="middle" class="ax">sept.-18</text><text x="539.9" y="356.90" text-anchor="middle" class="ax">mars-19</text><text x="588.3" y="356.90" text-anchor="middle" class="ax">sept.-19</text><clipPath id="cp3"><rect x="487.6" y="201.4" width="114.39999999999998" height="143.9"/></clipPath><polyline points="491.60,281.89 499.70,281.43 515.90,270.15 524.00,274.38 540.20,278.14 556.40,282.36 572.60,273.91 580.70,269.68 588.80,271.09 596.90,275.79" fill="none" stroke="#e3202a" stroke-width="2.3" stroke-linejoin="round" clip-path="url(#cp3)"/><text x="632.2" y="348.40" text-anchor="end" class="ax">0.2800</text><line x1="636.8" y1="316.68" x2="744.5" y2="316.68" stroke="#d4d4d4" stroke-width="0.7" stroke-dasharray="2.2,1.8"/><text x="632.2" y="320.08" text-anchor="end" class="ax">0.2900</text><line x1="636.8" y1="288.36" x2="744.5" y2="288.36" stroke="#d4d4d4" stroke-width="0.7" stroke-dasharray="2.2,1.8"/><text x="632.2" y="291.76" text-anchor="end" class="ax">0.3000</text><line x1="636.8" y1="260.04" x2="744.5" y2="260.04" stroke="#d4d4d4" stroke-width="0.7" stroke-dasharray="2.2,1.8"/><text x="632.2" y="263.44" text-anchor="end" class="ax">0.3100</text><line x1="636.8" y1="231.72" x2="744.5" y2="231.72" stroke="#d4d4d4" stroke-width="0.7" stroke-dasharray="2.2,1.8"/><text x="632.2" y="235.12" text-anchor="end" class="ax">0.3200</text><line x1="636.8" y1="203.40" x2="744.5" y2="203.40" stroke="#d4d4d4" stroke-width="0.7" stroke-dasharray="2.2,1.8"/><text x="632.2" y="206.80" text-anchor="end" class="ax">0.3300</text><line x1="636.8" y1="203.4" x2="636.8" y2="345.0" stroke="#d9d9d9" stroke-width="0.9"/><line x1="636.8" y1="345.0" x2="744.5" y2="345.0" stroke="#d9d9d9" stroke-width="0.9"/><line x1="636.8" y1="345.0" x2="636.8" y2="347.2" stroke="#d9d9d9" stroke-width="0.8"/><line x1="682.7" y1="345.0" x2="682.7" y2="347.2" stroke="#d9d9d9" stroke-width="0.8"/><line x1="728.9" y1="345.0" x2="728.9" y2="347.2" stroke="#d9d9d9" stroke-width="0.8"/><line x1="744.5" y1="345.0" x2="744.5" y2="347.2" stroke="#d9d9d9" stroke-width="0.8"/><text x="640.8" y="355.50" text-anchor="middle" class="ax">déc.-18</text><text x="686.5" y="355.50" text-anchor="middle" class="ax">juin-19</text><text x="732.4" y="355.50" text-anchor="middle" class="ax">déc.-19</text><clipPath id="cp4"><rect x="636.8" y="200.4" width="110.70000000000005" height="144.6"/></clipPath><polyline points="640.30,347.83 648.00,344.72 663.40,337.92 678.80,331.69 694.20,322.91 701.90,314.13 709.60,305.92 717.30,301.95 732.70,296.86 740.40,293.17" fill="none" stroke="#e3202a" stroke-width="2.3" stroke-linejoin="round" clip-path="url(#cp4)"/><text x="314.4" y="385.0" class="cap">Temperature probability (Source: Bloomberg)</text><text x="525.7" y="385.0" class="cap">Precipitations probability (Source: Bloomberg)</text></svg><div style="position:absolute;left:11.70px;top:490.80px;width:252.30px;height:113.20px;background:#dcdcdc;"></div><div class="t" style="left:11.7px;top:534px;width:252.3px;height:12px;line-height:12px;text-align:center;color:#e0313b;font-size:9.6px;font-weight:bold;letter-spacing:-0.15px">RMS Commodités</div><div class="t" style="left:11.7px;top:550.2px;width:252.3px;height:12px;line-height:12px;text-align:center;color:#e0313b;font-size:9.6px;font-weight:bold;letter-spacing:0.58px">514-394-4556 / 1-844-394-4556</div><svg width="766" height="633" style="position:absolute;left:0;top:0"><style>.ml{font-size:3.9px;fill:#555;font-weight:bold;font-family:"Liberation Sans",sans-serif}.ml2{font-size:3.9px;fill:#555;font-weight:bold;font-family:"Liberation Sans",sans-serif}.ml3{font-size:3px;fill:#555;font-weight:bold;font-family:"Liberation Sans",sans-serif}.mono{font-size:4.6px;fill:#111;font-weight:normal;stroke:#111;stroke-width:0.12;text-rendering:geometricPrecision;font-family:"Liberation Mono",monospace}.mono2{font-size:3.7px;fill:#000;stroke:#000;stroke-width:0.2;text-rendering:geometricPrecision;font-family:"Liberation Mono",monospace}</style><g><clipPath id="topt"><rect x="280" y="415.5" width="250" height="190"/></clipPath><g clip-path="url(#topt)"><polygon points="478.7,447.3 477.0,448.7 474.1,449.9 470.9,450.3 465.7,448.8 461.2,446.5 456.7,443.9 453.5,442.8 448.7,439.3 445.9,438.2 440.1,435.9 435.1,434.5 429.3,433.9 423.7,432.9 424.4,426.2 422.8,418.1 421.1,407.9 452.0,407.7 451.8,418.1 455.1,419.9 457.4,418.6 459.9,416.7 463.2,418.6 464.4,420.8 465.4,427.2 466.2,430.9 468.0,434.5 469.9,438.2 472.2,441.0 475.5,444.5" fill="#fff" stroke="#1e1e1e" stroke-width="1.05"/><path d="M472.4,417 L475,416 L477,418.5 L479,417 L481.8,419 L479,420.7 L476,420" fill="none" stroke="#1e1e1e" stroke-width="0.9"/><polygon points="409.7,446.2 406.3,448.2 404.3,447.0 403.1,444.8 407.1,444.3" fill="#fff" stroke="#1e1e1e" stroke-width="0.95"/><polygon points="419.0,449.4 418.8,450.6 416.5,450.5 416.1,449.4 416.7,447.9 418.8,448.2" fill="#fff" stroke="#1e1e1e" stroke-width="0.95"/><polygon points="419.4,444.5 419.2,445.4 418.2,445.4 416.7,444.5 417.3,443.6 418.6,443.8" fill="#fff" stroke="#1e1e1e" stroke-width="0.95"/><polygon points="427.4,453.3 426.6,454.0 424.7,453.3 426.5,452.4" fill="#fff" stroke="#1e1e1e" stroke-width="0.95"/><polygon points="424.6,461.1 422.4,463.3 420.8,461.1 422.3,460.0" fill="#fff" stroke="#1e1e1e" stroke-width="0.95"/><polygon points="393.3,447.0 392.5,447.7 390.9,447.8 389.9,447.0 390.4,446.0 392.5,446.0" fill="#fff" stroke="#1e1e1e" stroke-width="0.95"/><polygon points="393.7,444.4 393.0,445.2 391.6,445.2 390.3,444.4 391.0,443.7 392.5,443.5" fill="#fff" stroke="#1e1e1e" stroke-width="0.95"/><polygon points="404.0,446.6 402.9,447.8 401.2,447.2 401.7,446.2 403.1,446.0" fill="#fff" stroke="#1e1e1e" stroke-width="0.95"/><polygon points="392.9,442.3 390.3,443.5 388.5,442.3 390.7,440.7" fill="#fff" stroke="#1e1e1e" stroke-width="0.95"/><polygon points="412.1,448.5 412.0,449.6 410.0,449.8 409.1,448.5 410.0,447.5 411.1,447.0" fill="#fff" stroke="#1e1e1e" stroke-width="0.95"/><polygon points="394.0,454.1 392.8,455.3 390.0,455.0 391.3,453.0 392.7,452.1" fill="#fff" stroke="#1e1e1e" stroke-width="0.95"/><polygon points="426.0,457.7 426.0,458.4 424.1,459.1 422.8,457.7 424.1,456.5 425.9,456.3" fill="#fff" stroke="#1e1e1e" stroke-width="0.95"/><polygon points="414.7,437.5 413.6,439.7 411.9,438.6 409.7,436.6 413.0,435.6" fill="#fff" stroke="#1e1e1e" stroke-width="0.95"/><polygon points="408.4,448.7 406.5,449.7 403.7,449.4 404.0,447.6 406.7,446.8" fill="#fff" stroke="#1e1e1e" stroke-width="0.95"/><polygon points="407.4,454.5 403.8,457.1 401.0,454.5 403.7,452.7" fill="#fff" stroke="#1e1e1e" stroke-width="0.95"/><polygon points="402.0,461.4 401.6,462.1 399.7,462.0 400.2,461.4 400.1,460.6 401.6,460.7" fill="#fff" stroke="#1e1e1e" stroke-width="0.95"/><polygon points="424.2,441.4 423.6,442.3 421.7,442.4 421.1,441.4 421.9,440.8 423.6,440.7" fill="#fff" stroke="#1e1e1e" stroke-width="0.95"/><polygon points="423.8,446.2 422.3,447.4 420.6,446.8 420.7,445.5 422.1,444.7" fill="#fff" stroke="#1e1e1e" stroke-width="0.95"/><polygon points="410.7,461.6 409.9,462.9 408.4,461.6 409.7,460.4" fill="#fff" stroke="#1e1e1e" stroke-width="0.95"/><polygon points="408.2,437.4 407.2,438.1 406.9,438.5 405.6,437.4 406.2,436.4 408.2,436.3" fill="#fff" stroke="#1e1e1e" stroke-width="0.95"/><polygon points="391.0,448.8 390.0,450.9 387.0,450.1 385.7,448.8 387.5,446.6 390.0,446.7" fill="#fff" stroke="#1e1e1e" stroke-width="0.95"/><polygon points="418.6,435.3 417.4,436.0 416.1,436.0 415.7,434.7 417.4,434.2" fill="#fff" stroke="#1e1e1e" stroke-width="0.95"/><polygon points="421.6,443.4 420.7,443.9 419.9,444.2 419.2,443.4 419.5,442.7 420.6,442.8" fill="#fff" stroke="#1e1e1e" stroke-width="0.95"/><polygon points="404.1,448.8 403.0,449.5 402.1,448.8 403.3,447.7" fill="#fff" stroke="#1e1e1e" stroke-width="0.95"/><polygon points="415.2,440.6 414.2,442.2 412.4,441.6 410.9,440.6 412.2,439.5 413.9,439.4" fill="#fff" stroke="#1e1e1e" stroke-width="0.95"/><polygon points="394.4,458.0 393.5,459.7 391.5,459.8 389.7,458.0 390.2,456.7 392.5,456.2" fill="#fff" stroke="#1e1e1e" stroke-width="0.95"/><polygon points="410.0,453.4 408.1,455.6 405.0,453.4 408.6,451.6" fill="#fff" stroke="#1e1e1e" stroke-width="0.95"/><polygon points="422.3,427.6 418.3,429.6 415.9,427.6 417.9,425.6" fill="#fff" stroke="#1e1e1e" stroke-width="0.95"/><polygon points="400.3,459.5 400.2,461.2 397.5,461.2 395.7,459.5 396.4,458.1 400.4,458.3" fill="#fff" stroke="#1e1e1e" stroke-width="0.95"/><polygon points="412.2,459.7 409.2,461.3 407.0,460.7 406.8,459.0 409.6,457.9" fill="#fff" stroke="#1e1e1e" stroke-width="0.95"/><polygon points="418.1,439.1 416.3,441.3 413.0,439.1 415.7,437.2" fill="#fff" stroke="#1e1e1e" stroke-width="0.95"/><polygon points="415.0,453.1 413.1,453.8 412.4,453.1 413.0,451.9" fill="#fff" stroke="#1e1e1e" stroke-width="0.95"/><polygon points="399.2,461.3 397.5,462.3 395.3,462.3 395.6,460.6 398.4,459.8" fill="#fff" stroke="#1e1e1e" stroke-width="0.95"/><polygon points="448.0,450.6 448.1,452.2 449.4,453.5 450.0,454.7 450.3,456.4 450.7,457.8 451.4,459.8 451.7,461.3 451.8,463.2 451.8,463.8 451.3,463.2 450.2,463.9 449.1,463.8 448.6,463.7 447.9,464.6 447.3,464.2 446.9,465.0 445.9,464.7 445.8,465.4 445.4,465.5 444.1,465.2 443.2,465.2 442.8,463.9 440.9,463.4 440.0,463.2 439.4,462.4 438.2,462.8 438.0,463.2 438.1,463.6 437.0,463.7 436.7,463.3 436.3,464.3 435.7,464.6 434.6,464.4 434.5,463.6 434.7,461.9 435.0,461.0 435.3,459.9 435.1,459.0 435.3,458.2 435.3,457.8 436.1,456.0 435.7,455.2 435.0,454.5 434.7,455.0 433.5,454.0 432.3,453.1 431.8,452.8 431.5,452.3 429.9,452.6 429.7,451.3 428.9,450.6 428.2,451.3 427.9,450.6 426.6,449.8 425.8,449.8 425.5,449.4 424.7,448.3 424.6,448.7 424.0,448.1 423.3,447.6 422.1,446.9 421.6,445.8 420.7,445.6 420.4,445.6 420.6,444.9 420.9,445.3 421.3,444.4 420.8,444.0 421.1,443.8 422.0,444.4 422.5,443.7 422.7,443.8 422.4,443.5 423.6,443.4 423.8,442.8 423.7,443.5 424.4,443.8 425.7,443.7 425.6,444.6 426.6,444.0 426.5,444.3 428.0,445.3 427.7,445.6 429.2,445.7 429.2,445.8 429.5,445.5 431.1,446.4 431.1,446.8 431.5,446.8 432.5,446.1 432.4,446.2 432.9,446.5 433.5,446.4 433.9,446.9 434.7,446.5 435.5,447.0 435.8,447.0 436.8,447.1 437.8,447.0 438.6,447.7 439.0,448.8 440.2,448.9 441.7,449.5 442.1,449.6 443.1,450.1 443.4,450.0 444.4,449.8 445.8,450.2 446.4,450.6 447.6,450.4 448.0,450.6" fill="#fff" stroke="#1e1e1e" stroke-width="1.1"/><polygon points="407.2,455.6 406.8,455.9 406.2,456.3 405.6,456.3 405.1,457.0 404.8,457.1 404.6,456.6 403.7,457.5 403.4,456.9 402.1,457.1 401.6,456.9 401.1,457.3 401.3,457.5 400.1,457.2 400.2,456.5 399.9,457.4 398.7,457.3 398.4,456.7 398.5,457.0 397.1,456.5 397.0,456.3 396.1,456.2 396.2,455.8 395.4,456.1 394.2,455.9 394.2,456.0 392.9,456.4 393.1,456.3 391.7,455.4 391.0,455.8 390.6,455.0 390.2,455.7 390.0,454.8 388.6,455.4 389.2,453.9 388.7,451.9 389.5,451.0 388.9,450.2 389.7,448.8 389.9,448.2 390.7,447.5 392.0,446.3 392.9,446.2 393.1,445.4 394.0,445.6 394.1,445.6 394.5,445.7 395.4,445.9 396.4,445.9 396.7,445.9 397.1,445.7 397.5,445.8 398.6,446.4 398.4,446.4 399.6,446.0 399.9,446.4 400.0,446.9 400.3,446.5 401.0,447.1 401.0,446.9 401.8,446.7 401.9,446.4 401.9,446.1 402.4,446.8 403.0,446.2 403.2,446.9 404.5,446.7 404.2,446.2 404.6,447.1 404.8,447.7 405.3,448.9 406.5,449.1 406.1,450.2 406.6,450.2 406.7,450.9 407.2,452.5 406.9,454.1 407.2,455.6" fill="#fff" stroke="#1e1e1e" stroke-width="1.1"/><polygon points="384.8,445.7 384.5,445.8 384.9,446.3 385.2,446.3 385.8,446.9 386.4,447.6 386.9,448.1 387.2,448.7 387.4,447.8 388.7,447.3 389.0,447.5 389.0,447.5 390.6,446.9 391.1,446.8 391.2,446.2 392.3,446.2 393.3,445.9 392.6,445.4 392.4,444.7 391.5,443.4 391.0,443.2 390.7,443.2 390.8,442.4 390.7,441.9 390.4,440.6 390.4,441.3 389.7,441.0 389.5,440.3 389.2,440.4 388.2,440.3 388.5,440.1 388.2,440.8 387.2,441.5 386.3,443.2 385.9,444.5 384.8,445.7" fill="#fff" stroke="#1e1e1e" stroke-width="1.1"/><polygon points="421.1,436.9 421.0,436.5 420.1,436.7 420.4,436.8 419.9,436.6 419.0,436.9 419.4,437.4 419.0,437.0 418.5,437.2 418.1,436.9 418.3,437.0 418.0,437.9 416.7,437.4 417.2,438.0 416.5,437.2 415.9,438.0 415.6,437.6 415.2,437.6 415.7,437.2 415.2,437.6 415.0,437.8 413.9,438.0 413.9,437.1 413.0,437.6 413.2,437.4 413.4,438.7 414.2,440.5 414.4,441.7 415.9,442.3 416.4,442.9 416.7,442.3 416.5,442.4 417.6,442.5 417.2,442.3 417.5,441.8 417.7,442.6 418.2,442.6 418.6,441.8 419.2,441.6 419.4,442.4 420.3,442.1 420.4,442.1 421.1,441.6 421.2,441.0 421.6,441.3 422.0,441.4 421.8,440.7 422.9,440.6 422.7,440.8 422.0,439.8 422.2,437.9 421.1,436.9" fill="#fff" stroke="#1e1e1e" stroke-width="1.1"/><polygon points="414.4,436.9 414.9,436.6 415.1,436.5 415.0,436.1 415.3,436.8 415.9,435.9 416.6,436.6 416.4,435.6 416.4,435.4 416.9,435.2 417.0,435.2 417.7,435.8 418.1,435.1 418.0,435.1 418.3,434.7 418.2,434.5 419.4,434.2 419.2,434.5 419.8,433.9 419.5,433.8 419.9,433.8 420.7,434.1 420.9,433.0 420.0,433.2 421.0,432.4 420.8,431.3 420.6,431.7 421.1,431.1 421.3,429.9 420.4,429.2 420.8,429.2 421.3,428.7 421.0,428.2 420.9,427.7 420.5,427.6 420.9,427.5 421.4,426.5 421.0,426.2 421.6,426.4 421.1,425.4 421.7,425.7 421.6,425.0 421.9,424.4 421.7,424.7 422.5,424.6 422.4,424.0 421.7,423.4 422.5,423.5 421.8,422.4 422.0,422.7 421.8,421.9 422.1,422.3 421.6,420.9 421.7,421.0 422.0,420.4 422.1,420.6 421.7,419.7 422.0,419.8 421.6,419.7 420.7,420.3 420.6,420.6 420.6,419.8 420.1,420.0 420.4,420.6 419.6,420.0 419.4,420.7 419.1,419.7 418.8,420.1 419.5,420.6 419.2,420.7 419.2,420.0 418.1,420.7 418.5,419.7 418.3,420.1 417.7,420.0 417.3,419.6 417.2,420.0 417.8,419.7 417.6,419.8 416.7,420.5 417.0,420.0 416.0,420.1 416.1,420.5 415.8,420.1 416.5,419.8 415.8,420.8 416.1,420.1 415.1,420.3 416.0,420.6 415.7,421.5 415.1,420.9 415.7,421.4 414.8,421.7 414.7,421.3 414.2,422.0 415.1,422.0 414.9,421.5 414.0,422.1 414.7,422.7 413.9,422.1 413.8,422.5 414.2,422.3 413.9,423.0 413.8,423.2 413.4,422.8 412.9,423.0 413.3,422.8 412.4,423.6 412.3,423.0 411.9,423.7 412.1,424.2 412.5,424.4 411.7,423.5 411.4,424.4 411.9,424.8 411.3,425.2 411.6,425.9 411.6,426.5 411.3,426.2 411.3,426.8 410.9,427.3 410.9,427.6 410.2,428.1 409.9,429.2 410.1,429.1 410.2,430.4 410.7,430.3 411.3,431.4 411.8,431.4 411.6,432.9 412.4,433.6 411.9,433.6 412.4,434.1 413.7,435.1 414.1,435.5 414.4,436.2 414.4,436.9" fill="#fff" stroke="#1e1e1e" stroke-width="1.1"/><polygon points="411.7,441.9 411.1,442.1 411.5,441.2 410.7,441.7 409.9,441.3 409.5,441.0 409.3,441.3 409.3,440.8 408.3,440.8 408.7,440.5 407.9,440.4 408.1,440.7 406.9,440.1 407.0,440.6 406.9,440.0 406.0,440.5 406.0,440.0 405.5,440.6 405.2,440.1 404.9,439.9 405.1,440.4 405.0,438.0 405.9,436.5 405.4,437.4 406.1,437.4 406.4,437.6 406.8,437.0 406.6,437.5 407.6,438.0 407.3,437.8 408.0,437.8 408.1,437.6 408.8,438.4 408.7,438.1 409.8,438.7 409.4,438.4 410.6,439.9 410.5,439.5 411.4,440.5 411.8,441.4 411.7,441.9" fill="#fff" stroke="#1e1e1e" stroke-width="1.1"/><polygon points="403.8,441.8 403.8,441.4 403.4,441.4 402.6,442.1 402.7,441.3 401.7,441.5 401.7,441.4 400.9,441.2 401.2,441.9 400.1,441.5 400.5,440.8 400.2,440.8 399.6,441.3 399.2,440.9 398.4,441.1 398.0,441.2 397.5,440.8 396.5,441.0 396.6,440.4 396.4,441.0 395.6,440.2 395.1,440.0 394.2,440.3 394.9,439.2 396.1,437.5 396.9,436.4 397.5,437.3 397.7,436.5 398.1,436.9 399.1,436.7 399.4,437.7 399.8,437.6 399.6,437.8 400.4,437.8 401.2,437.0 401.4,437.9 400.9,437.3 402.0,437.1 402.5,437.2 402.7,437.1 402.6,438.7 402.5,438.7 403.0,439.5 402.7,440.0 403.1,441.6 403.8,441.8" fill="#fff" stroke="#1e1e1e" stroke-width="1.1"/><polygon points="414.2,449.4 413.9,449.6 412.9,449.3 412.4,448.9 412.5,448.5 412.4,448.6 411.6,448.7 410.6,448.2 410.7,447.0 410.5,446.2 410.3,445.9 410.0,446.0 410.4,445.2 411.1,444.9 411.6,445.0 411.8,445.6 412.1,445.1 412.2,444.2 412.3,444.2 413.3,444.4 413.5,444.7 413.3,445.2 414.0,446.3 413.5,447.9 414.2,449.4" fill="#fff" stroke="#1e1e1e" stroke-width="1.1"/><polygon points="416.8,449.0 415.8,448.3 415.4,448.1 415.3,447.2 414.8,446.9 413.8,446.9 413.4,445.5 412.8,445.5 413.2,445.2 412.2,443.7 411.3,443.3 412.3,443.1 412.8,443.3 413.5,443.7 413.1,444.0 413.3,443.6 414.1,443.4 414.1,444.1 414.5,443.9 415.9,443.5 415.5,444.1 416.0,445.4 416.6,446.1 416.3,447.5 416.8,449.0" fill="#fff" stroke="#1e1e1e" stroke-width="1.1"/><polygon points="425.8,464.4 426.0,465.4 427.6,465.7 427.6,466.3 429.2,466.3 430.0,466.8 430.2,466.8 431.1,467.2 432.0,468.4 433.5,469.6 434.6,470.0 433.8,470.4 433.5,470.7 432.3,471.0 432.4,470.7 431.7,470.7 430.3,471.1 430.2,472.1 429.6,471.6 428.9,471.0 427.3,471.1 426.9,470.3 426.1,470.0 425.1,469.3 424.5,468.7 424.6,467.6 425.2,466.2 425.1,465.5 425.8,464.4" fill="#fff" stroke="#1e1e1e" stroke-width="1.1"/><polygon points="434.9,471.5 433.8,472.2 433.2,471.4 432.5,472.6 432.2,471.9 431.2,472.0 431.2,472.8 431.5,471.6 431.0,470.1 432.2,470.8 433.5,471.2 433.6,471.6 434.9,471.5" fill="#fff" stroke="#1e1e1e" stroke-width="1.1"/><polygon points="409.8,433.1 410.0,433.7 408.8,432.9 408.5,432.9 409.1,433.8 408.5,433.9 408.3,433.4 407.4,433.3 407.8,433.5 407.1,433.8 406.4,433.7 406.4,434.3 406.3,434.0 406.6,434.2 406.2,434.4 405.2,432.9 405.6,432.1 405.4,430.7 405.9,430.0 406.5,429.7 406.7,429.6 406.1,429.5 407.2,430.2 406.6,429.5 407.4,429.6 407.3,429.1 407.7,429.3 407.8,429.3 408.1,428.3 408.8,428.4 408.4,428.4 408.6,428.3 409.4,429.6 409.5,430.4 409.5,431.7 409.8,433.1" fill="#fff" stroke="#1e1e1e" stroke-width="1.1"/><polygon points="401.0,435.0 400.9,434.6 400.5,434.6 399.2,434.9 399.5,435.2 398.5,435.7 397.9,435.3 397.7,435.6 397.5,435.6 396.6,435.3 395.9,435.9 395.9,436.0 394.8,435.8 395.0,436.2 393.7,436.2 394.0,436.2 392.7,436.4 393.8,436.7 393.8,435.6 394.5,435.5 395.4,435.0 395.8,434.7 397.0,435.0 396.6,434.9 397.2,433.9 398.7,434.0 399.0,433.3 398.8,433.8 399.0,433.6 399.7,433.7 400.1,434.8 400.8,434.7 401.0,435.0" fill="#fff" stroke="#1e1e1e" stroke-width="1.1"/><polygon points="410.7,449.6 410.4,449.6 409.5,449.8 409.3,450.0 409.4,449.6 408.6,450.0 408.0,449.4 407.9,450.1 407.6,449.9 407.2,449.9 406.9,448.3 406.4,447.3 406.1,445.7 407.2,445.9 407.5,445.3 407.6,445.3 408.3,445.1 408.7,445.5 408.6,445.1 409.6,444.6 409.7,445.1 409.4,445.9 409.8,447.4 410.9,448.4 410.7,449.6" fill="#fff" stroke="#1e1e1e" stroke-width="1.1"/><polygon points="415.0,448.7 414.1,448.8 414.2,449.0 413.7,448.9 413.6,448.8 412.7,449.3 412.1,449.0 411.8,449.1 411.6,448.0 411.9,445.7 411.8,444.8 411.9,444.8 412.7,445.0 413.0,444.5 413.3,444.9 414.4,444.6 414.0,444.8 414.6,444.1 414.7,444.6 415.4,445.9 415.0,447.3 415.0,448.7" fill="#fff" stroke="#1e1e1e" stroke-width="1.1"/><polygon points="412.3,458.6 411.5,459.0 411.1,458.6 411.1,458.7 410.2,458.0 409.7,457.8 409.5,457.9 409.0,457.7 409.0,456.4 409.5,455.0 409.5,455.7 410.3,455.3 410.9,455.7 411.5,455.9 412.1,457.1 412.3,458.6" fill="#fff" stroke="#1e1e1e" stroke-width="1.1"/><polygon points="426.8,444.4 426.9,444.9 425.5,444.9 426.0,444.9 424.7,445.0 424.8,444.1 423.7,445.2 424.0,444.5 423.0,444.4 422.9,443.3 423.4,442.6 424.4,443.3 424.0,443.3 424.9,443.2 425.4,443.3 425.9,443.2 425.7,443.0 426.8,444.4" fill="#fff" stroke="#1e1e1e" stroke-width="1.1"/><polygon points="395.6,437.4 395.2,437.6 394.7,437.5 394.4,436.7 393.6,436.4 393.5,436.1 393.0,436.0 392.8,436.3 392.6,436.5 391.7,436.3 391.9,435.8 393.0,435.0 393.4,433.5 394.3,433.3 394.2,434.1 393.9,434.2 395.0,434.8 395.0,435.0 395.6,434.6 396.5,434.3 396.7,435.1 395.8,436.6 395.6,437.4" fill="#fff" stroke="#1e1e1e" stroke-width="1.1"/><polygon points="414.4,431.2 414.0,431.3 414.0,431.8 413.4,431.6 413.4,431.8 413.6,431.7 413.3,431.9 412.7,431.9 412.4,432.8 412.4,432.7 411.7,432.3 411.4,432.7 411.6,433.1 410.6,433.1 411.3,433.0 410.0,431.5 409.6,430.2 410.3,429.4 409.7,428.3 410.2,428.0 410.0,427.9 410.3,427.7 410.5,427.1 410.7,427.3 411.0,426.7 410.6,426.5 411.5,427.3 411.5,426.6 411.9,426.9 411.9,426.9 412.0,427.7 412.3,428.3 413.1,429.4 412.8,429.6 413.1,429.7 414.4,430.7 414.4,431.2" fill="#fff" stroke="#1e1e1e" stroke-width="1.1"/><polygon points="405.5,438.1 405.7,437.9 404.4,437.8 404.7,438.2 404.8,437.6 403.9,437.1 403.8,437.1 403.0,436.7 402.5,437.3 403.1,436.8 403.5,435.8 403.8,435.0 404.7,435.4 405.0,435.5 404.6,436.3 405.6,436.6 405.9,435.9 405.5,438.1" fill="#fff" stroke="#1e1e1e" stroke-width="1.1"/><polygon points="487.4,488.7 486.9,487.2 486.2,485.6 485.4,484.0 485.1,481.5 483.8,480.4 484.6,478.5 484.2,477.5 484.2,476.1 485.6,476.5 486.7,477.9 488.0,479.0 488.9,480.1 490.5,479.9 492.1,479.7 493.3,479.9 495.1,479.8 496.2,479.3 497.5,480.3 498.6,483.0 497.2,483.2 496.6,483.8 495.2,483.7 493.9,484.6 492.7,484.7 492.0,485.6 491.3,485.8 489.8,486.5 489.2,487.4 488.6,488.3 487.4,488.7" fill="#fff" stroke="#1e1e1e" stroke-width="0.7"/><path d="M368.9,443.2 L368.7,444.0 L369.7,444.5 L369.7,444.3 L370.2,445.3 L370.3,445.8 L370.2,445.5 L370.7,446.6 L370.6,447.0 L371.8,446.6 L372.0,447.2 L372.4,446.9 L372.7,447.5 L373.8,447.3 L373.6,447.8 L374.8,447.3 L375.1,448.1 L376.0,447.8 L376.0,448.0 L376.3,447.7 L376.8,448.4 L377.4,448.3 L378.0,448.4 L378.2,448.0 L379.6,448.4 L379.0,449.0 L380.0,448.9 L380.2,449.5 L380.5,449.5 L380.3,450.8 L381.5,450.7 L381.6,450.8 L382.2,451.3 L382.7,452.0 L383.0,452.4 L382.9,451.8 L383.3,452.1 L383.6,452.2 L384.5,453.3 L384.8,453.6 L385.7,452.9 L385.9,453.5 L385.8,454.2 L386.5,454.2 L387.4,454.9 L388.0,454.7 L388.4,454.8 L389.4,455.9 L389.3,455.3 L389.9,455.9 L391.1,456.8 L391.6,456.3 L392.1,457.2 L392.6,457.8 L392.6,457.3 L393.9,458.2 L394.5,457.7 L395.0,458.3 L395.2,458.0 L395.9,457.9 L396.6,458.1 L396.9,458.1 L397.8,458.1 L398.4,458.4 L398.2,459.2 L398.9,459.3 L400.1,459.4 L399.9,459.1 L400.3,459.7 L401.6,459.6 L401.7,459.4 L402.6,459.7 L402.9,459.5 L403.1,459.5 L404.1,460.1 L404.0,460.6 L404.7,460.2 L405.1,460.2 L406.3,460.4 L406.2,460.5 L406.9,461.0 L407.2,461.0 L407.7,461.0 L408.8,460.3 L409.2,460.3 L409.5,460.2 L410.2,461.0 L411.3,460.5 L410.9,459.4 L412.2,458.7 L412.5,458.4 L413.0,456.8 L413.1,455.8 L412.6,454.2 L413.5,453.4 L413.0,452.0 L413.9,450.4 L414.1,451.3 L414.3,452.8 L415.4,453.2 L415.4,453.9 L416.6,455.6 L417.0,456.5 L418.1,458.2 L418.8,458.0 L418.7,457.4 L419.7,457.6 L420.2,457.2 L420.8,457.4 L421.4,457.8 L421.5,456.9 L422.5,457.2 L422.9,456.9 L422.6,456.7 L423.1,455.3 L423.4,455.0 L423.3,454.2 L424.3,454.3 L424.5,454.6 L425.8,454.9 L425.9,454.8 L426.5,454.9 L426.5,456.3 L427.8,457.2 L427.7,458.5 L428.0,459.3 L428.8,460.8 L427.5,460.9 L427.1,462.0 L426.4,461.6 L426.5,462.0 L425.3,462.7 L425.4,462.9 L425.0,462.8 L424.7,463.7 L423.9,464.4 L424.4,466.1 L424.2,467.1 L424.3,468.5 L424.0,469.7 L423.0,469.9 L423.1,470.0 L422.6,471.3 L421.6,471.3 L421.5,471.9 L420.5,472.8 L420.3,472.7 L419.2,473.2 L418.8,474.3 L418.7,475.6 L418.2,477.0 L416.9,478.0 L417.2,479.8 L416.0,480.7 L416.3,482.0 L416.1,483.1 L417.0,484.8 L417.6,485.7 L419.6,487.6 L420.7,488.7 L421.4,489.0 L422.3,488.2 L422.9,488.4 L423.8,488.5 L424.5,489.1 L425.4,488.5 L426.1,488.7 L427.4,488.5 L427.6,488.9 L428.3,489.0 L430.1,489.1 L430.3,489.2 L431.5,489.0 L432.0,489.2 L433.1,489.6 L434.1,489.5 L434.8,489.9 L436.5,490.1 L437.2,490.3 L437.8,490.4 L438.7,491.6 L439.4,492.8 L439.7,494.0 L440.2,495.6 L440.9,497.0 L441.8,497.6 L444.0,498.2 L445.0,499.2 L445.5,499.3 L446.4,498.6 L447.1,497.4 L447.2,496.5 L445.9,495.1 L445.7,494.1 L444.8,492.3 L445.1,491.6 L443.8,489.9 L444.5,489.3 L445.3,488.5 L446.0,487.2 L446.4,486.5 L445.7,485.1 L445.1,484.1 L444.5,482.3 L443.8,481.0 L443.0,480.3 L442.0,479.5 L441.3,477.8 L440.8,477.1 L439.9,475.4 L439.0,474.3 L438.9,472.5 L438.1,471.2 L437.6,469.5 L438.7,469.8 L439.0,469.2 L439.3,468.8 L439.9,468.9 L441.0,468.2 L442.0,468.2 L442.5,468.4 L443.5,467.9 L443.8,468.8 L444.2,468.0 L445.6,468.5 L446.8,468.9 L447.2,469.2 L448.5,469.8 L449.9,470.7 L450.9,471.9 L452.2,473.3 L453.4,472.9 L453.7,472.8 L455.0,473.0 L456.1,473.4 L456.6,471.8 L456.1,470.8 L456.7,469.3 L456.3,468.6 L456.0,467.1 L456.9,466.6 L458.0,466.7 L460.0,468.1 L461.5,469.2 L463.2,469.4 L464.1,470.0 L465.9,470.9 L467.0,471.3 L468.9,472.4 L470.1,473.5 L471.9,473.2 L473.1,474.3 L474.5,474.5 L475.7,474.5 L478.0,475.1 L479.4,475.0 L480.8,475.6 L482.1,476.0 L484.0,476.7 L484.0,477.3 L483.5,478.3 L484.1,479.5 L482.9,480.3 L482.8,481.8 L482.3,482.6 L481.2,482.6 L481.4,483.7 L480.6,484.3 L479.2,484.8 L478.4,486.0 L478.1,486.0 L477.2,486.6 L476.0,487.7 L475.7,488.3 L474.8,488.5 L473.8,488.4 L473.7,489.7 L472.3,490.3 L471.9,490.2 L471.4,492.0 L470.9,493.2 L470.3,493.8 L470.4,494.8 L469.6,496.7 L469.3,497.8 L469.8,496.4 L470.6,495.7 L471.9,495.0 L472.2,494.1 L472.9,493.6 L473.4,492.6 L473.8,492.6 L475.1,491.7 L475.9,491.4 L476.9,492.9 L478.2,494.9 L479.2,496.7 L480.7,497.7 L482.6,497.2 L483.2,497.6 L484.7,496.6 L485.3,496.7 L486.4,496.6 L486.3,495.0 L486.7,492.8 L486.6,491.2 L488.5,492.3 L490.4,493.7 L489.3,494.4 L489.1,495.4 L488.8,496.4 L488.0,497.9 L487.2,499.1 L486.7,500.1 L486.3,501.0 L485.5,501.9 L484.7,503.9 L484.1,505.0 L483.3,506.1 L482.4,504.8 L481.3,503.1 L480.2,502.1 L479.4,503.6 L479.2,504.5" fill="none" stroke="#1e1e1e" stroke-width="1.0"/><path d="M356.1,483.4 L355.0,486.7 L356.0,490.4 L355.0,494.0 L356.1,495.9 L357.3,497.8 L359.1,500.8 L359.8,502.9" fill="none" stroke="#1e1e1e" stroke-width="0.6"/><polygon points="353.0,494.3 354.2,496.8 355.4,499.2 356.5,501.4 357.7,503.6 358.9,504.4 357.8,499.0 356.1,497.5 354.6,495.9 353.0,494.3" fill="#fff" stroke="#1e1e1e" stroke-width="0.5"/><polygon points="350.8,482.1 352.7,483.9 350.8,487.7 350.8,482.1" fill="#fff" stroke="#1e1e1e" stroke-width="0.5"/><path d="M353.0,464.1 L354.2,465.0 L355.3,465.8 L356.5,466.6 L357.7,467.3 L358.9,468.1 L360.2,468.8 L361.4,469.5 L362.6,470.2 L363.9,470.9 L365.2,471.6 L366.5,472.2 L367.8,472.8 L369.1,473.4 L370.4,474.0 L371.8,474.6 L373.1,475.1 L374.5,475.6 L375.8,476.1 L377.2,476.6 L378.9,477.0 L380.5,477.4 L382.2,477.8 L383.9,478.2 L385.6,478.6 L387.3,478.9 L389.0,479.2 L390.7,479.5 L392.1,479.8 L393.6,480.0 L395.0,480.2 L396.5,480.4 L397.9,480.6 L399.4,480.8 L400.8,480.9 L402.3,481.0 L403.8,481.1 L405.2,481.1 L406.8,481.2 L408.3,481.2 L409.9,481.1 L411.4,481.1 L413.0,481.0 L414.5,480.9 L416.1,480.8 M377.2,476.6 L376.2,479.2 L375.1,481.8 L374.1,484.4 L373.0,487.1 L372.0,489.8 L370.9,492.4 L372.2,494.7 L373.6,496.9 L375.3,500.3 L377.1,503.6 L379.1,508.4 M393.6,480.0 L393.1,482.7 L392.5,485.3 L392.0,488.0 L391.5,490.7 L391.0,493.4 L390.5,496.1 L390.0,498.8 L389.4,501.6 L388.9,504.4 L388.4,507.1 L387.8,509.9 M405.2,481.1 L405.1,483.8 L405.0,486.5 L404.9,489.2 L404.8,492.0 L404.7,494.7 L404.6,497.5 L404.5,500.2 L404.4,503.0 L404.3,505.8 L404.2,508.6 L404.1,511.5 M418.1,511.2 L417.7,507.6 L417.4,504.0 L417.1,500.5 L418.8,498.5 L420.4,496.5 L421.9,494.4 L423.3,492.4 L424.7,490.3 L426.0,488.2 M372.1,446.0 L371.1,448.5 L370.1,451.1 L369.2,453.7 L368.3,456.3 L368.1,458.9 L368.0,461.5 L367.9,464.2 L368.0,466.9 L368.7,468.4 L369.4,470.0 L370.1,471.5 L370.9,473.0 L371.8,474.6 M446.5,498.1 L447.7,501.1 L448.9,504.1 L450.2,507.1 L451.4,510.1 L454.3,510.6 L457.3,511.1 L460.3,511.5 L464.0,511.5 M482.9,477.9 L481.1,479.1 L479.2,480.2 L477.3,481.3 L475.4,482.3 L473.5,483.3 L471.6,484.2 L469.8,484.9 L468.0,485.4 L466.1,486.0 L464.1,483.1 L462.0,480.2 L461.0,477.3 L459.9,474.5 L458.8,471.7 L457.6,468.9 L456.5,466.2 M472.7,498.9 L474.6,496.1" stroke="#7a7a7a" stroke-width="0.75" fill="none"/><path d="M356.3,554.7 L356.2,558.1 L358.3,562.7 L361.1,568.8 L361.3,572.0 L366.2,577.5 L366.8,583.0 L370.7,589.8 L374.2,590.7 L373.0,587.6 L370.9,585.5 L370.2,581.8 L369.6,578.2 L368.4,574.4 L367.1,570.7 L366.2,567.1 L365.4,563.5 L362.8,559.3 M362.8,559.3 L368.3,561.8 L369.4,565.7 L370.5,569.6 L373.6,575.4 L376.6,581.1 L380.5,585.2 L384.9,592.1 L386.2,596.2 L387.6,600.4 L387.8,606.0 L392.1,608.8 L396.4,611.5 L400.3,613.1 L404.3,614.8 L408.3,616.3 M418.0,583.4 L416.4,590.3 L416.9,593.8 L417.4,597.4 L419.6,602.8 L423.8,608.2 L429.9,610.8 L434.8,609.5 L439.5,608.2 L444.7,604.0 L443.7,598.6 L448.1,596.9 L452.5,595.2 L456.1,594.4 M388.5,562.9 L392.0,566.2 L395.6,569.4" stroke="#3a3a3a" stroke-width="0.55" fill="none"/><polygon points="463.3,591.3 464.9,589.8 467.1,588.6 468.8,587.2 470.1,585.4 471.7,584.2 473.8,583.5 475.4,583.3 477.3,582.6 479.1,582.2 481.0,582.4 482.8,583.1 485.2,583.2 486.9,583.1 489.1,583.4 491.6,583.6 493.9,583.7 496.8,583.7 499.0,584.1 501.1,584.0 503.2,584.4 501.3,585.0 499.8,586.5 497.6,587.0 496.1,588.3 493.8,589.0 492.0,590.2 489.7,589.7 487.7,588.6 485.4,588.2 483.2,587.8 480.7,586.8 479.2,587.2 477.3,587.6 475.3,587.8 473.4,587.8 471.2,588.1 469.4,588.8 467.6,589.5 465.5,590.2 463.3,591.3" fill="none" stroke="#1a1a1a" stroke-width="0.9"/><path d="M477.3,569.3 L481.7,566.9 L483.9,567.6 L485.1,572.8 M482.0,573.2 L485.0,576.7 L486.1,577.4 M487.2,570.8 L490.1,572.8 L493.9,575.1 M493.1,576.6 L496.7,576.6 M499.0,576.4 L502.9,579.1 M505.0,576.9 L509.2,576.2" stroke="#1a1a1a" stroke-width="1.0" fill="none"/></g><clipPath id="akt"><polygon points="328.4,435.9 330.3,434.6 334.0,435.6 337.9,435.2 341.7,434.0 343.0,430.8 345.5,430.2 348.7,432.1 349.9,434.0 351.8,430.2 353.1,428.6 356.9,428.9 360.7,430.8 364.5,434.0 368.2,439.0 370.8,444.1 353.1,462.4 350.6,458.6 346.8,456.7 341.7,456.1 338.0,457.2 334.1,456.7 330.3,455.4 326.5,452.3 325.3,451.0 329.1,449.1 329.7,445.3 327.8,442.2 329.1,439.0"/></clipPath><polygon points="328.4,435.9 330.3,434.6 334.0,435.6 337.9,435.2 341.7,434.0 343.0,430.8 345.5,430.2 348.7,432.1 349.9,434.0 351.8,430.2 353.1,428.6 356.9,428.9 360.7,430.8 364.5,434.0 368.2,439.0 370.8,444.1 353.1,462.4 350.6,458.6 346.8,456.7 341.7,456.1 338.0,457.2 334.1,456.7 330.3,455.4 326.5,452.3 325.3,451.0 329.1,449.1 329.7,445.3 327.8,442.2 329.1,439.0" fill="#fff"/><g clip-path="url(#akt)"><rect x="320" y="420" width="22" height="45" fill="#d8382a"/><polygon points="341.7,420 350.6,420 350.6,465 341.7,465" fill="#eb7a32"/><polygon points="350.6,420 356.9,420 355.6,465 350.6,465" fill="#f29a46"/><polygon points="356.9,420 361.9,420 359.4,454.2 355.6,465" fill="#a8a8a8"/><polygon points="361.9,420 380,420 380,465 355.6,465 359.4,454.2" fill="#8bbde6"/><path d="M330,438 L336,437.5 M331,446 L339,445 M334,453 L344,453.5 M344,441 L349,442" stroke="#8a2218" stroke-width="0.9" stroke-opacity="0.8"/><circle cx="363.5" cy="443" r="2.2" fill="none" stroke="#3050a0" stroke-width="0.5"/></g><polygon points="328.4,435.9 330.3,434.6 334.0,435.6 337.9,435.2 341.7,434.0 343.0,430.8 345.5,430.2 348.7,432.1 349.9,434.0 351.8,430.2 353.1,428.6 356.9,428.9 360.7,430.8 364.5,434.0 368.2,439.0 370.8,444.1 353.1,462.4 350.6,458.6 346.8,456.7 341.7,456.1 338.0,457.2 334.1,456.7 330.3,455.4 326.5,452.3 325.3,451.0 329.1,449.1 329.7,445.3 327.8,442.2 329.1,439.0" fill="none" stroke="#2a2a2a" stroke-width="0.6"/><path d="M331,417.5 L336,416.5 L340,417 M339,418 L337,422 L341,424 M344,416 L342,421 M347,422 L346,425 M333,426 L334,427 M322,433 L323,434" stroke="#222" stroke-width="0.8" fill="none"/><path d="M305.2,434.6 Q311,441 316,444.5 Q320,447.5 325,450.6" stroke="#e0662f" stroke-width="2.0" fill="none"/><path d="M305.2,434.6 Q308,437.5 310,439" stroke="#f0a050" stroke-width="2" fill="none"/><polygon points="353.1,462.4 356.0,463.5 357.0,468.0 357.5,474.0 358.3,481.0 358.5,487.0 356.5,489.0 355.0,483.0 353.0,476.0 351.5,468.0 351.5,464.0" fill="#2e1d12"/><path d="M354,466 L355,470 M356,478 L357,482 M352,470 L353,473" stroke="#d8902f" stroke-width="0.9" fill="none"/><clipPath id="ust"><polygon points="356.2,503.4 359.8,502.9 361.7,503.7 363.6,504.3 365.5,505.0 367.7,505.6 369.9,506.2 372.1,506.8 374.4,507.3 376.6,507.8 378.9,508.3 381.1,508.7 383.4,509.2 385.5,509.5 387.5,509.9 389.5,510.2 391.5,510.5 393.6,510.7 395.6,510.9 397.6,511.1 399.7,511.3 401.7,511.4 403.8,511.5 405.8,511.5 407.9,511.5 409.9,511.5 411.9,511.5 414.0,511.4 416.0,511.3 418.1,511.2 418.0,510.0 419.3,511.9 422.6,511.9 425.9,512.9 429.9,512.6 432.2,511.3 434.9,512.1 437.8,512.9 440.6,513.6 442.4,514.3 441.0,516.5 438.8,519.1 436.0,520.0 439.1,517.9 441.7,516.6 445.1,517.6 446.1,520.1 449.1,523.2 448.7,526.5 450.4,526.9 453.7,525.3 455.9,523.0 456.6,519.9 459.0,517.6 461.4,515.2 463.2,511.9 465.5,510.9 467.8,509.8 470.1,508.7 470.9,507.0 470.4,502.9 470.6,500.3 472.6,499.5 473.8,499.7 476.1,503.1 479.2,504.5 477.3,507.6 474.9,511.0 475.5,513.7 475.3,515.2 478.2,515.4 475.9,518.0 472.9,520.1 471.3,522.9 472.2,524.5 471.7,528.5 470.8,530.2 471.7,534.9 475.5,539.6 472.4,542.9 469.5,546.8 467.0,551.4 464.5,555.0 465.5,560.2 470.2,565.5 474.2,570.3 475.1,574.5 473.3,576.5 469.2,574.1 464.7,569.3 462.7,565.6 459.0,563.5 456.9,564.0 454.0,565.4 450.1,563.9 445.3,563.9 441.0,566.4 442.5,569.2 438.5,570.2 433.6,569.5 427.8,569.8 424.8,571.5 419.9,574.8 417.2,577.7 417.0,581.5 418.0,583.4 411.3,581.7 409.9,578.2 406.0,572.5 403.8,570.4 400.6,570.3 398.3,572.9 393.9,570.7 391.2,566.8 388.5,562.9 383.4,562.3 383.1,563.9 378.7,563.3 374.3,562.5 370.8,560.6 367.2,558.5 363.6,556.4 364.1,555.9 360.2,555.3 356.3,554.7 356.4,552.4 353.7,549.6 351.5,547.4 348.2,545.3 348.4,542.6 347.3,538.2 347.3,534.2 346.7,532.3 346.8,527.3 346.7,525.3 348.8,521.5 349.2,518.4 352.7,514.0 354.9,509.8 356.0,506.7 356.2,503.4"/></clipPath><g clip-path="url(#ust)"><polygon points="356.2,503.4 359.8,502.9 361.7,503.7 363.6,504.3 365.5,505.0 367.7,505.6 369.9,506.2 372.1,506.8 374.4,507.3 376.6,507.8 378.9,508.3 381.1,508.7 383.4,509.2 385.5,509.5 387.5,509.9 389.5,510.2 391.5,510.5 393.6,510.7 395.6,510.9 397.6,511.1 399.7,511.3 401.7,511.4 403.8,511.5 405.8,511.5 407.9,511.5 409.9,511.5 411.9,511.5 414.0,511.4 416.0,511.3 418.1,511.2 418.0,510.0 419.3,511.9 422.6,511.9 425.9,512.9 429.9,512.6 432.2,511.3 434.9,512.1 437.8,512.9 440.6,513.6 442.4,514.3 441.0,516.5 438.8,519.1 436.0,520.0 439.1,517.9 441.7,516.6 445.1,517.6 446.1,520.1 449.1,523.2 448.7,526.5 450.4,526.9 453.7,525.3 455.9,523.0 456.6,519.9 459.0,517.6 461.4,515.2 463.2,511.9 465.5,510.9 467.8,509.8 470.1,508.7 470.9,507.0 470.4,502.9 470.6,500.3 472.6,499.5 473.8,499.7 476.1,503.1 479.2,504.5 477.3,507.6 474.9,511.0 475.5,513.7 475.3,515.2 478.2,515.4 475.9,518.0 472.9,520.1 471.3,522.9 472.2,524.5 471.7,528.5 470.8,530.2 471.7,534.9 475.5,539.6 472.4,542.9 469.5,546.8 467.0,551.4 464.5,555.0 465.5,560.2 470.2,565.5 474.2,570.3 475.1,574.5 473.3,576.5 469.2,574.1 464.7,569.3 462.7,565.6 459.0,563.5 456.9,564.0 454.0,565.4 450.1,563.9 445.3,563.9 441.0,566.4 442.5,569.2 438.5,570.2 433.6,569.5 427.8,569.8 424.8,571.5 419.9,574.8 417.2,577.7 417.0,581.5 418.0,583.4 411.3,581.7 409.9,578.2 406.0,572.5 403.8,570.4 400.6,570.3 398.3,572.9 393.9,570.7 391.2,566.8 388.5,562.9 383.4,562.3 383.1,563.9 378.7,563.3 374.3,562.5 370.8,560.6 367.2,558.5 363.6,556.4 364.1,555.9 360.2,555.3 356.3,554.7 356.4,552.4 353.7,549.6 351.5,547.4 348.2,545.3 348.4,542.6 347.3,538.2 347.3,534.2 346.7,532.3 346.8,527.3 346.7,525.3 348.8,521.5 349.2,518.4 352.7,514.0 354.9,509.8 356.0,506.7 356.2,503.4" fill="#d5304a"/><polygon points="340.0,500.0 430.0,505.0 430.0,530.0 409.0,535.5 391.9,537.0 377.7,545.5 367.7,552.6 375.0,556.0 386.0,553.0 396.0,554.0 405.0,550.0 418.0,546.0 432.0,548.0 445.0,556.0 455.0,550.0 462.0,548.0 470.0,560.0 480.0,590.0 340.0,590.0" fill="#dd3e2d"/><polygon points="425.0,505.0 443.0,506.0 442.0,515.0 437.0,521.0 425.0,528.4" fill="#db452e"/><polygon points="340.0,500.0 430.0,505.0 425.0,521.3 404.7,531.3 387.6,534.1 373.4,541.2 362.0,546.9 353.5,549.7 340.0,560.0" fill="#e6602b"/><polygon points="340.0,500.0 430.0,505.0 425.0,517.0 404.7,525.6 387.6,529.8 370.6,537.0 359.2,542.6 350.7,546.9 340.0,550.0" fill="#ef8a37"/><polygon points="340.0,500.0 430.0,505.0 425.0,514.5 416.0,516.0 401.8,520.5 387.6,525.0 373.4,530.5 362.0,537.8 353.5,543.4 340.0,546.0" fill="#f4b960"/><polygon points="340.0,500.0 430.0,505.0 425.0,513.2 416.0,514.8 401.8,518.6 387.6,522.8 373.4,528.3 362.0,535.5 353.5,541.0 340.0,544.0" fill="#b2b2b2"/><polygon points="340.0,500.0 394.7,505.0 393.6,513.0 389.0,519.5 369.0,526.5 360.5,533.5 354.5,540.2 340.0,542.0" fill="#a6cbee"/><polygon points="340.0,500.0 391.9,505.0 391.5,513.0 387.6,518.6 367.7,525.8 359.2,532.8 353.5,539.4 340.0,541.0" fill="#77b5ea"/><polygon points="387.0,566.0 392.0,561.0 402.0,556.0 415.0,553.0 426.0,552.6 434.0,556.0 436.0,566.0 430.0,570.0 420.0,590.0 390.0,590.0" fill="#ee8c3a"/><polygon points="404.0,567.0 410.0,563.5 417.0,563.0 420.0,566.0 419.0,570.0 417.0,575.0 414.0,578.0 410.0,574.0 406.0,571.0" fill="#f3aa55"/><polygon points="455.0,556.0 463.0,553.0 466.0,562.0 475.0,570.0 480.0,590.0 452.0,590.0 452.0,563.0" fill="#df4a2f"/><polygon points="470.0,574.0 477.0,574.0 477.0,580.0 470.0,580.0" fill="#e8703a"/><polygon points="452.5,515.5 460.0,516.0 463.8,512.1 469.0,500.0 480.0,498.0 482.0,516.9 476.0,521.6 478.0,537.4 471.0,542.0 465.0,539.5 458.0,532.0 455.0,524.0" fill="#8a2835"/><polygon points="468.0,500.0 482.0,500.0 480.0,506.5 475.0,507.5 471.0,506.0" fill="#d5304a"/><path d="M354.9,509.8 L356.8,511.5 L360.2,513.5 L362.4,513.9 L364.9,514.2 L367.5,514.7 L370.0,515.2 M372.5,506.9 L371.3,510.4 L370.1,514.0 L370.0,515.2 L370.5,516.9 L369.1,518.0 L368.2,519.9 L367.1,523.2 L366.0,526.5 M374.7,507.4 L373.8,510.2 L375.8,512.1 L376.8,514.9 L377.7,519.9 L379.8,522.1 L383.0,522.4 L382.2,526.0 L381.5,529.6 L380.8,532.6 L383.3,533.0 L385.7,533.4 L388.2,533.7 L390.7,534.0 L393.2,534.3 L395.6,534.5 L398.1,534.7 L400.6,534.8 L403.1,534.9 L403.0,537.9 M348.8,520.9 L351.1,521.8 L353.4,522.6 L355.6,523.4 L357.9,524.2 L360.5,525.0 L363.1,525.7 L365.7,526.4 L368.4,527.0 L371.0,527.6 L373.7,528.2 L376.4,528.7 L379.0,529.2 L381.5,529.6 M383.3,520.9 L385.5,521.3 L387.8,521.6 L390.0,521.9 L392.3,522.2 L394.5,522.5 L396.8,522.7 L399.0,522.8 M358.3,524.4 L357.2,527.2 L356.1,530.0 L354.9,532.9 L357.0,536.1 L359.2,539.3 L361.4,542.4 L363.8,545.6 L366.3,548.8 L365.5,551.9 L364.1,555.9 M373.8,528.2 L372.8,531.7 L371.9,535.1 L370.9,538.6 L370.0,542.2 L369.0,545.8 L366.4,548.8 M369.7,543.0 L372.7,543.6 L375.6,544.2 L378.3,544.7 L381.0,545.1 L383.7,545.5 L386.4,545.9 L389.1,546.2 L391.9,546.5 L394.6,546.7 L397.3,546.9 L400.0,547.1 M385.7,533.4 L385.2,536.6 L384.6,539.9 L384.1,543.2 L383.5,546.5 L382.9,549.8 L382.3,553.2 L381.7,556.6 L381.1,560.1 L380.5,563.5 M399.9,511.3 L399.7,514.1 L399.5,517.0 L399.2,519.9 L399.0,522.8 L398.8,525.7 L398.6,528.7 L398.3,531.7 L398.1,534.7 L400.6,534.8 L403.1,534.9 M399.2,520.1 L401.6,520.2 L404.0,520.3 L406.3,520.3 L408.7,520.4 L411.1,520.3 L413.4,520.3 L415.8,520.1 M413.9,511.4 L414.5,514.3 L415.1,517.2 L415.8,520.1 L416.2,523.7 L416.5,527.3 L416.6,530.3 L418.7,535.8 L420.2,537.6 M398.6,528.7 L401.2,528.8 L403.8,528.9 L406.5,529.0 L409.1,529.0 L411.8,529.0 L414.2,529.6 L416.6,530.3 M416.5,527.3 L419.0,527.1 L421.4,526.9 L423.9,526.7 L426.3,526.4 L428.8,526.1 M403.0,537.9 L405.8,538.0 L408.7,538.0 L411.6,538.0 L414.4,537.9 L417.3,537.8 L420.2,537.6 L422.2,540.2 L422.6,544.2 L423.1,548.2 L423.7,552.7 L424.4,557.2 L425.9,559.1 L426.3,562.7 L426.7,566.3 L427.1,569.9 M403.0,537.9 L402.9,541.0 L402.7,544.1 L402.6,547.2 M402.6,547.2 L405.5,547.2 L408.4,547.3 L411.3,547.2 L414.2,547.2 L417.1,547.0 L420.0,546.9 L422.9,546.6 M400.0,547.1 L399.9,548.6 L402.7,548.7 L405.5,548.8 L408.2,548.8 L408.2,555.0 L411.1,555.6 L414.0,556.3 L416.9,556.9 L420.7,557.1 L424.4,557.2 M399.9,548.6 L399.8,552.2 L399.5,555.8 L399.3,559.4 L399.1,563.0 L395.5,562.8 L391.9,562.5 L388.3,562.2 M423.1,548.2 L426.1,547.9 L429.1,547.5 L432.2,547.1 L435.2,546.7 L435.6,548.2 L436.7,548.0 M425.9,559.1 L430.0,558.7 L434.2,558.1 L434.2,561.4 L434.1,564.8 L439.7,563.9 L441.0,566.4 M434.2,558.1 L435.2,554.7 L436.1,551.4 L436.7,548.0 L437.4,544.7 L433.7,539.7 L429.7,534.7 L430.7,528.8 L428.8,526.1 L424.4,522.2 L425.1,518.8 L425.5,517.0 M435.7,551.4 L438.5,551.0 L441.2,550.5 L444.0,549.9 L446.8,549.3 L449.6,548.7 L452.3,548.0 L455.6,547.1 L458.6,546.1 L461.7,545.0 L465.5,545.9 L469.5,546.8 M441.5,550.4 L442.2,554.0 L442.9,557.7 L443.6,561.4 L444.3,565.1 M448.7,548.9 L450.2,551.8 L451.6,554.8 L453.1,557.8 L454.0,561.0 L450.1,561.9 L446.2,562.7 L447.1,564.9 M454.0,561.0 L454.6,561.9 L458.7,561.0 L462.8,560.0 L464.7,559.1 M418.7,535.8 L421.5,535.6 L424.2,535.4 L427.0,535.1 L429.7,534.7 M430.7,528.8 L434.0,528.3 L437.3,527.6 M429.0,516.8 L431.8,517.6 L434.6,518.2 L436.0,520.0 M438.6,529.8 L439.5,533.8 L440.5,537.8 L439.8,541.8 M437.4,544.7 L440.0,542.7 L442.6,541.4 L445.1,540.0 L447.3,536.0 L450.3,536.3 L453.5,536.6 L454.9,533.6 L456.0,528.7 M438.6,529.8 L441.8,529.1 L445.0,528.4 L448.1,527.6 M445.0,528.4 L446.1,532.2 L447.3,536.0 M454.7,524.7 L455.9,527.9 L457.2,531.2 L460.0,530.2 L462.9,529.2 L465.7,528.2 L468.4,527.1 L470.2,530.6 L472.0,529.9 M436.9,546.1 L439.9,545.6 L442.9,545.0 L445.9,544.3 L448.8,543.6 L451.8,542.9 L454.7,542.1 L457.6,541.2 L460.7,540.3 L463.7,539.3 L466.7,538.3 L469.6,537.2 L472.6,536.1 M457.6,541.2 L454.4,539.2 L453.5,536.6 M452.3,548.0 L455.0,544.6 L457.6,541.2 M455.6,547.1 L458.4,549.6 L461.4,552.2 L464.4,554.7 M457.0,539.4 L460.2,537.4 L461.1,533.9 L462.8,530.6 L464.5,530.0 L466.7,530.5 L469.6,532.4 M456.1,523.3 L456.4,524.1 L458.9,523.2 L461.4,522.3 L463.8,521.4 L466.2,520.4 L467.7,521.8 L468.7,521.5 L471.0,521.7 M468.7,521.5 L470.1,525.4 L469.4,527.4 M466.4,510.5 L468.1,513.4 L469.7,516.4 L470.3,518.5 L471.9,521.3 M470.1,508.7 L470.8,512.2 L471.5,515.6 L469.9,516.4 M471.5,515.6 L474.6,514.1 M470.4,518.6 L472.7,517.5 L474.9,516.4 M470.4,507.6 L472.5,510.2 L474.7,512.8 M474.1,516.9 L475.2,518.7" stroke="#3a1010" stroke-width="0.7" stroke-opacity="0.55" fill="none"/></g><polygon points="356.2,503.4 359.8,502.9 361.7,503.7 363.6,504.3 365.5,505.0 367.7,505.6 369.9,506.2 372.1,506.8 374.4,507.3 376.6,507.8 378.9,508.3 381.1,508.7 383.4,509.2 385.5,509.5 387.5,509.9 389.5,510.2 391.5,510.5 393.6,510.7 395.6,510.9 397.6,511.1 399.7,511.3 401.7,511.4 403.8,511.5 405.8,511.5 407.9,511.5 409.9,511.5 411.9,511.5 414.0,511.4 416.0,511.3 418.1,511.2 418.0,510.0 419.3,511.9 422.6,511.9 425.9,512.9 429.9,512.6 432.2,511.3 434.9,512.1 437.8,512.9 440.6,513.6 442.4,514.3 441.0,516.5 438.8,519.1 436.0,520.0 439.1,517.9 441.7,516.6 445.1,517.6 446.1,520.1 449.1,523.2 448.7,526.5 450.4,526.9 453.7,525.3 455.9,523.0 456.6,519.9 459.0,517.6 461.4,515.2 463.2,511.9 465.5,510.9 467.8,509.8 470.1,508.7 470.9,507.0 470.4,502.9 470.6,500.3 472.6,499.5 473.8,499.7 476.1,503.1 479.2,504.5 477.3,507.6 474.9,511.0 475.5,513.7 475.3,515.2 478.2,515.4 475.9,518.0 472.9,520.1 471.3,522.9 472.2,524.5 471.7,528.5 470.8,530.2 471.7,534.9 475.5,539.6 472.4,542.9 469.5,546.8 467.0,551.4 464.5,555.0 465.5,560.2 470.2,565.5 474.2,570.3 475.1,574.5 473.3,576.5 469.2,574.1 464.7,569.3 462.7,565.6 459.0,563.5 456.9,564.0 454.0,565.4 450.1,563.9 445.3,563.9 441.0,566.4 442.5,569.2 438.5,570.2 433.6,569.5 427.8,569.8 424.8,571.5 419.9,574.8 417.2,577.7 417.0,581.5 418.0,583.4 411.3,581.7 409.9,578.2 406.0,572.5 403.8,570.4 400.6,570.3 398.3,572.9 393.9,570.7 391.2,566.8 388.5,562.9 383.4,562.3 383.1,563.9 378.7,563.3 374.3,562.5 370.8,560.6 367.2,558.5 363.6,556.4 364.1,555.9 360.2,555.3 356.3,554.7 356.4,552.4 353.7,549.6 351.5,547.4 348.2,545.3 348.4,542.6 347.3,538.2 347.3,534.2 346.7,532.3 346.8,527.3 346.7,525.3 348.8,521.5 349.2,518.4 352.7,514.0 354.9,509.8 356.0,506.7 356.2,503.4" fill="none" stroke="#222" stroke-width="0.7"/><text x="363.5" y="445" text-anchor="middle" style="font-size:5px;font-family:Liberation Sans,sans-serif;fill:#1a3a7a">B</text><text x="348.5" y="481" text-anchor="middle" style="font-size:5px;font-family:Liberation Sans,sans-serif;fill:#444">A</text><text x="362.7" y="516.8" text-anchor="middle" style="font-size:5px;font-family:Liberation Sans,sans-serif;fill:#1a2a5a">B</text><text x="395.9" y="517" text-anchor="middle" style="font-size:5px;font-family:Liberation Sans,sans-serif;fill:#333">N</text><text x="378.5" y="548" text-anchor="middle" style="font-size:5px;font-family:Liberation Sans,sans-serif;fill:#4a1020">A</text><text x="466" y="524" text-anchor="middle" style="font-size:5px;font-family:Liberation Sans,sans-serif;fill:#2a0a10">A</text><clipPath id="noaat"><circle cx="305.7" cy="569.3" r="9.7"/></clipPath><circle cx="305.7" cy="569.3" r="10.7" fill="#e3e8f0"/><circle cx="305.7" cy="569.3" r="9.7" fill="#1b74c6"/><g clip-path="url(#noaat)"><path d="M294,558 L318,558 L318,564.2 Q311,569.8 304.3,573.6 Q299,570.3 294,566.3 Z" fill="#ffffff"/><path d="M296.8,559 L315.3,559 Q310.5,566.5 304.8,571.4 Q300,566.8 296.8,559 Z" fill="#1c1f6e"/></g><rect x="301.5" y="563.5" width="8" height="1.6" fill="#b8c0e0" opacity="0.8"/><text x="295.2" y="587.5" class="mono" textLength="53" lengthAdjust="spacingAndGlyphs">6-10 DAY OUTLOOK</text><text x="295.2" y="591.1" class="mono" textLength="78" lengthAdjust="spacingAndGlyphs">TEMPERATURE PROBABILITY</text><text x="295.2" y="594.9" class="mono" textLength="53.5" lengthAdjust="spacingAndGlyphs">MADE 8 SEP 2019</text><text x="295.2" y="598.8" class="mono" textLength="81" lengthAdjust="spacingAndGlyphs">VALID SEP 14 - 18, 2019</text><text x="418" y="590.2" class="mono2" textLength="89.7" lengthAdjust="spacingAndGlyphs">SHADED BLACK LINES INDICATE PROBABILITY</text><text x="418" y="592.8" class="mono2" textLength="78" lengthAdjust="spacingAndGlyphs">OF 33% TO SHADED AREAS ARE FOR</text><text x="418" y="596.9" class="mono2" textLength="95.5" lengthAdjust="spacingAndGlyphs">VALUES ABOVE 33% OR BELOW 33% NORMAL</text><text x="418" y="600.2" class="mono2" textLength="69.2" lengthAdjust="spacingAndGlyphs">WHITE AREAS ARE NEAR-NORMAL</text></g><rect x="294.40" y="604.4" width="15.25" height="8.4" fill="#1c1745"/><rect x="309.35" y="604.4" width="15.25" height="8.4" fill="#221a5e"/><rect x="324.29" y="604.4" width="15.25" height="8.4" fill="#2e3d86"/><rect x="339.24" y="604.4" width="15.25" height="8.4" fill="#0f5db0"/><rect x="354.19" y="604.4" width="15.25" height="8.4" fill="#3b98e0"/><rect x="369.13" y="604.4" width="15.25" height="8.4" fill="#79b4ea"/><rect x="384.08" y="604.4" width="15.25" height="8.4" fill="#a6c9ec"/><rect x="399.03" y="604.4" width="15.25" height="8.4" fill="#b4b4b4"/><rect x="413.97" y="604.4" width="15.25" height="8.4" fill="#f1b766"/><rect x="428.92" y="604.4" width="15.25" height="8.4" fill="#ee9440"/><rect x="443.87" y="604.4" width="15.25" height="8.4" fill="#e86a2a"/><rect x="458.81" y="604.4" width="15.25" height="8.4" fill="#d8352a"/><rect x="473.76" y="604.4" width="15.25" height="8.4" fill="#d52a4a"/><rect x="488.71" y="604.4" width="15.25" height="8.4" fill="#9a2535"/><rect x="503.65" y="604.4" width="15.25" height="8.4" fill="#6a1c25"/><text x="309.3" y="617.5" class="ml" text-anchor="middle">90%</text><text x="324.3" y="617.5" class="ml" text-anchor="middle">80%</text><text x="339.2" y="617.5" class="ml" text-anchor="middle">70%</text><text x="354.2" y="617.5" class="ml" text-anchor="middle">60%</text><text x="369.1" y="617.5" class="ml" text-anchor="middle">50%</text><text x="384.1" y="617.5" class="ml" text-anchor="middle">40%</text><text x="399.0" y="617.5" class="ml" text-anchor="middle">33%</text><text x="414.0" y="617.5" class="ml" text-anchor="middle">33%</text><text x="428.9" y="617.5" class="ml" text-anchor="middle">40%</text><text x="443.9" y="617.5" class="ml" text-anchor="middle">50%</text><text x="458.8" y="617.5" class="ml" text-anchor="middle">60%</text><text x="473.8" y="617.5" class="ml" text-anchor="middle">70%</text><text x="488.7" y="617.5" class="ml" text-anchor="middle">80%</text><text x="503.7" y="617.5" class="ml" text-anchor="middle">90%</text><text x="347.5" y="625.0" class="ml2" text-anchor="middle" textLength="39.0" lengthAdjust="spacingAndGlyphs">Probability of Below</text><text x="467.0" y="625.0" class="ml2" text-anchor="middle" textLength="39.0" lengthAdjust="spacingAndGlyphs">Probability of Above</text><text x="408.0" y="624.2" class="ml3" text-anchor="middle" textLength="9.0" lengthAdjust="spacingAndGlyphs">Normal</text><path d="M398.3,619.9 L398.3,627.4 M414.0,619.9 L414.0,627.4" stroke="#9a9a9a" stroke-width="0.6"/><g transform="matrix(0.955,0,0,1.074,262.824,-44.611)"><clipPath id="topp"><rect x="280" y="415.5" width="250" height="190"/></clipPath><g clip-path="url(#topp)"><polygon points="478.7,447.3 477.2,449.1 473.8,450.2 471.2,450.5 466.0,448.6 461.2,446.4 456.9,444.0 453.5,442.3 449.1,439.6 445.6,437.7 440.0,436.0 435.1,434.7 428.9,434.3 423.6,433.2 424.4,426.2 423.0,418.2 420.8,408.1 452.1,408.0 452.3,418.5 454.7,419.9 457.4,418.3 459.6,416.6 462.8,418.6 464.6,420.4 465.3,426.9 465.9,430.8 467.4,434.5 470.3,438.2 472.1,441.2 475.5,444.5" fill="#fff" stroke="#1e1e1e" stroke-width="1.05"/><path d="M472.4,417 L475,416 L477,418.5 L479,417 L481.8,419 L479,420.7 L476,420" fill="none" stroke="#1e1e1e" stroke-width="0.9"/><polygon points="409.7,446.2 406.3,448.2 404.3,447.0 403.1,444.8 407.1,444.3" fill="#fff" stroke="#1e1e1e" stroke-width="0.95"/><polygon points="419.0,449.4 418.8,450.6 416.5,450.5 416.1,449.4 416.7,447.9 418.8,448.2" fill="#fff" stroke="#1e1e1e" stroke-width="0.95"/><polygon points="419.4,444.5 419.2,445.4 418.2,445.4 416.7,444.5 417.3,443.6 418.6,443.8" fill="#fff" stroke="#1e1e1e" stroke-width="0.95"/><polygon points="427.4,453.3 426.6,454.0 424.7,453.3 426.5,452.4" fill="#fff" stroke="#1e1e1e" stroke-width="0.95"/><polygon points="424.6,461.1 422.4,463.3 420.8,461.1 422.3,460.0" fill="#fff" stroke="#1e1e1e" stroke-width="0.95"/><polygon points="393.3,447.0 392.5,447.7 390.9,447.8 389.9,447.0 390.4,446.0 392.5,446.0" fill="#fff" stroke="#1e1e1e" stroke-width="0.95"/><polygon points="393.7,444.4 393.0,445.2 391.6,445.2 390.3,444.4 391.0,443.7 392.5,443.5" fill="#fff" stroke="#1e1e1e" stroke-width="0.95"/><polygon points="404.0,446.6 402.9,447.8 401.2,447.2 401.7,446.2 403.1,446.0" fill="#fff" stroke="#1e1e1e" stroke-width="0.95"/><polygon points="392.9,442.3 390.3,443.5 388.5,442.3 390.7,440.7" fill="#fff" stroke="#1e1e1e" stroke-width="0.95"/><polygon points="412.1,448.5 412.0,449.6 410.0,449.8 409.1,448.5 410.0,447.5 411.1,447.0" fill="#fff" stroke="#1e1e1e" stroke-width="0.95"/><polygon points="394.0,454.1 392.8,455.3 390.0,455.0 391.3,453.0 392.7,452.1" fill="#fff" stroke="#1e1e1e" stroke-width="0.95"/><polygon points="426.0,457.7 426.0,458.4 424.1,459.1 422.8,457.7 424.1,456.5 425.9,456.3" fill="#fff" stroke="#1e1e1e" stroke-width="0.95"/><polygon points="414.7,437.5 413.6,439.7 411.9,438.6 409.7,436.6 413.0,435.6" fill="#fff" stroke="#1e1e1e" stroke-width="0.95"/><polygon points="408.4,448.7 406.5,449.7 403.7,449.4 404.0,447.6 406.7,446.8" fill="#fff" stroke="#1e1e1e" stroke-width="0.95"/><polygon points="407.4,454.5 403.8,457.1 401.0,454.5 403.7,452.7" fill="#fff" stroke="#1e1e1e" stroke-width="0.95"/><polygon points="402.0,461.4 401.6,462.1 399.7,462.0 400.2,461.4 400.1,460.6 401.6,460.7" fill="#fff" stroke="#1e1e1e" stroke-width="0.95"/><polygon points="424.2,441.4 423.6,442.3 421.7,442.4 421.1,441.4 421.9,440.8 423.6,440.7" fill="#fff" stroke="#1e1e1e" stroke-width="0.95"/><polygon points="423.8,446.2 422.3,447.4 420.6,446.8 420.7,445.5 422.1,444.7" fill="#fff" stroke="#1e1e1e" stroke-width="0.95"/><polygon points="410.7,461.6 409.9,462.9 408.4,461.6 409.7,460.4" fill="#fff" stroke="#1e1e1e" stroke-width="0.95"/><polygon points="408.2,437.4 407.2,438.1 406.9,438.5 405.6,437.4 406.2,436.4 408.2,436.3" fill="#fff" stroke="#1e1e1e" stroke-width="0.95"/><polygon points="391.0,448.8 390.0,450.9 387.0,450.1 385.7,448.8 387.5,446.6 390.0,446.7" fill="#fff" stroke="#1e1e1e" stroke-width="0.95"/><polygon points="418.6,435.3 417.4,436.0 416.1,436.0 415.7,434.7 417.4,434.2" fill="#fff" stroke="#1e1e1e" stroke-width="0.95"/><polygon points="421.6,443.4 420.7,443.9 419.9,444.2 419.2,443.4 419.5,442.7 420.6,442.8" fill="#fff" stroke="#1e1e1e" stroke-width="0.95"/><polygon points="404.1,448.8 403.0,449.5 402.1,448.8 403.3,447.7" fill="#fff" stroke="#1e1e1e" stroke-width="0.95"/><polygon points="415.2,440.6 414.2,442.2 412.4,441.6 410.9,440.6 412.2,439.5 413.9,439.4" fill="#fff" stroke="#1e1e1e" stroke-width="0.95"/><polygon points="394.4,458.0 393.5,459.7 391.5,459.8 389.7,458.0 390.2,456.7 392.5,456.2" fill="#fff" stroke="#1e1e1e" stroke-width="0.95"/><polygon points="410.0,453.4 408.1,455.6 405.0,453.4 408.6,451.6" fill="#fff" stroke="#1e1e1e" stroke-width="0.95"/><polygon points="422.3,427.6 418.3,429.6 415.9,427.6 417.9,425.6" fill="#fff" stroke="#1e1e1e" stroke-width="0.95"/><polygon points="400.3,459.5 400.2,461.2 397.5,461.2 395.7,459.5 396.4,458.1 400.4,458.3" fill="#fff" stroke="#1e1e1e" stroke-width="0.95"/><polygon points="412.2,459.7 409.2,461.3 407.0,460.7 406.8,459.0 409.6,457.9" fill="#fff" stroke="#1e1e1e" stroke-width="0.95"/><polygon points="418.1,439.1 416.3,441.3 413.0,439.1 415.7,437.2" fill="#fff" stroke="#1e1e1e" stroke-width="0.95"/><polygon points="415.0,453.1 413.1,453.8 412.4,453.1 413.0,451.9" fill="#fff" stroke="#1e1e1e" stroke-width="0.95"/><polygon points="399.2,461.3 397.5,462.3 395.3,462.3 395.6,460.6 398.4,459.8" fill="#fff" stroke="#1e1e1e" stroke-width="0.95"/><polygon points="448.0,450.6 449.1,452.1 448.7,453.4 449.6,454.5 450.2,455.8 451.1,458.0 451.2,459.8 451.9,460.9 452.0,462.6 451.1,463.5 451.4,463.2 450.0,463.8 450.0,464.3 448.6,464.4 448.7,464.5 447.5,464.1 447.4,464.4 446.2,464.9 445.6,465.3 444.7,464.6 444.4,465.4 443.7,465.0 442.7,464.7 441.3,463.7 439.9,463.0 439.4,462.2 438.9,462.5 438.1,463.6 437.1,462.8 437.0,463.2 436.7,463.3 436.3,464.4 435.6,464.2 434.5,464.6 435.0,463.4 435.0,462.4 435.5,461.8 435.9,460.0 435.4,459.3 435.8,458.2 435.5,456.9 435.7,456.3 436.5,455.8 435.6,455.4 434.9,454.6 433.9,453.5 432.9,453.7 431.7,453.2 431.7,452.6 430.5,451.9 429.5,452.1 428.4,450.8 428.4,450.7 427.0,450.5 426.7,450.0 426.1,449.5 425.6,449.0 424.4,448.3 424.7,448.3 423.2,448.1 422.7,446.8 422.4,446.6 421.8,446.4 420.9,446.0 420.2,445.4 420.2,444.5 420.3,444.3 420.7,444.9 421.2,444.6 421.8,443.7 422.4,444.2 421.7,444.1 422.4,443.1 423.4,443.4 423.5,442.7 423.8,442.4 423.8,443.0 424.1,443.6 424.9,443.6 426.0,444.0 426.8,444.5 427.3,444.7 428.0,445.4 427.7,445.5 428.5,445.8 429.5,446.1 429.5,445.9 430.8,446.7 431.3,445.8 431.7,445.9 432.2,446.7 432.3,446.9 433.4,446.2 433.4,446.4 434.7,446.6 434.4,446.0 435.0,446.8 435.6,446.6 436.6,447.2 437.6,447.1 439.1,448.1 439.8,448.8 441.0,448.4 441.3,449.0 442.3,450.0 443.4,449.3 443.5,450.3 444.9,450.0 445.5,449.8 446.7,450.2 447.6,450.6 448.0,450.6" fill="#fff" stroke="#1e1e1e" stroke-width="1.1"/><polygon points="407.2,455.6 406.2,455.7 405.8,456.5 405.7,455.8 404.8,456.3 404.6,456.8 404.0,456.7 403.0,457.1 402.9,456.7 402.5,457.7 401.5,456.8 401.7,456.9 400.8,457.1 400.3,457.1 400.0,457.4 400.0,456.4 399.1,457.1 398.9,457.0 398.1,456.8 397.3,456.3 397.3,456.9 397.0,456.6 395.7,456.6 395.6,456.2 394.8,455.9 394.1,455.9 392.9,455.7 392.6,456.3 392.1,455.5 391.2,455.2 390.7,455.0 389.7,455.7 389.6,455.1 389.1,454.8 388.7,453.2 389.0,452.1 389.5,451.1 389.9,449.6 390.0,448.5 389.9,447.4 391.3,447.7 391.9,446.7 392.8,446.2 392.9,445.8 394.4,445.7 394.2,445.4 394.7,445.8 395.8,445.8 396.0,445.8 396.8,446.6 397.4,445.9 398.0,446.8 398.4,445.9 399.1,446.8 399.0,446.0 399.2,446.5 400.4,446.6 400.8,446.2 400.6,446.8 401.4,446.4 401.8,446.4 401.5,446.4 401.9,446.7 402.7,446.5 403.4,446.3 403.6,446.0 404.5,446.6 405.0,446.0 405.0,447.4 405.0,447.3 405.2,448.0 406.3,448.6 406.7,449.6 406.9,450.4 407.3,451.2 407.3,452.3 407.4,453.8 407.2,455.6" fill="#fff" stroke="#1e1e1e" stroke-width="1.1"/><polygon points="384.8,445.7 385.3,446.4 385.7,446.2 386.0,447.3 385.9,446.9 386.3,448.0 386.2,447.3 386.9,448.4 387.9,447.8 388.7,447.4 389.0,446.9 388.9,446.7 389.7,446.8 390.9,446.1 392.1,446.0 391.9,445.5 393.2,446.0 392.2,444.5 392.5,444.2 392.3,443.9 391.6,443.2 391.4,442.8 390.6,442.7 390.1,442.0 389.9,441.4 389.9,441.5 389.2,441.0 389.2,441.3 389.5,440.8 388.3,440.3 388.0,440.3 387.6,439.9 387.4,441.8 386.2,443.5 385.3,444.4 384.8,445.7" fill="#fff" stroke="#1e1e1e" stroke-width="1.1"/><polygon points="421.1,436.9 420.4,437.3 420.9,436.7 420.4,437.4 419.6,436.9 419.5,437.6 418.8,437.4 418.9,437.2 418.6,437.7 417.9,437.7 417.7,437.7 417.9,437.0 417.6,438.0 416.6,436.9 416.1,438.0 415.7,438.0 415.5,437.8 415.1,437.2 415.4,437.1 414.7,438.0 414.8,438.0 414.8,437.1 413.6,437.9 413.8,437.1 413.3,437.3 413.7,438.5 413.8,440.7 414.7,441.8 415.1,442.7 415.5,442.6 415.9,442.8 416.3,442.8 417.0,442.0 417.2,442.4 418.2,442.1 417.8,442.7 418.9,442.4 418.6,441.7 418.9,441.5 419.1,441.9 419.8,441.8 420.1,441.1 420.8,441.7 421.0,441.5 421.6,441.9 422.1,441.5 421.9,441.0 422.3,441.6 422.6,440.8 422.1,439.2 422.2,437.7 421.1,436.9" fill="#fff" stroke="#1e1e1e" stroke-width="1.1"/><polygon points="414.4,436.9 414.9,437.3 414.8,436.8 415.2,436.2 415.3,436.0 416.3,436.6 416.6,435.6 416.7,435.8 416.9,435.9 416.8,436.2 416.8,435.8 418.0,435.4 418.0,435.7 417.8,435.2 418.7,434.8 418.9,434.6 419.0,434.7 419.4,434.2 419.6,434.3 419.4,434.2 419.7,434.3 420.2,434.0 420.5,433.5 420.2,432.6 421.1,432.4 420.7,431.9 421.1,431.0 420.4,431.1 420.7,430.3 421.2,430.0 421.2,428.5 420.7,428.8 421.1,427.5 420.5,427.3 420.6,427.2 421.5,427.0 421.2,426.3 421.3,427.0 421.7,426.1 421.5,426.2 421.9,425.2 421.9,425.1 421.8,424.7 421.8,424.5 421.8,423.9 421.7,424.1 421.5,423.3 422.2,423.0 421.8,422.6 422.3,422.1 422.1,422.6 421.6,421.7 422.2,421.6 421.7,420.6 421.7,420.6 422.0,420.1 421.6,420.1 421.8,419.8 421.1,420.1 421.5,419.7 421.3,420.3 420.5,420.3 420.2,419.7 420.5,420.0 420.0,420.2 420.2,420.5 419.0,420.3 419.3,420.1 419.5,420.1 418.9,420.6 418.6,420.2 418.5,420.6 418.5,420.5 418.0,419.7 418.1,420.2 418.0,420.5 417.0,419.9 416.8,420.5 416.6,419.7 417.1,420.2 416.2,420.3 416.7,420.1 415.8,420.3 416.0,420.3 416.6,420.7 416.3,420.1 415.6,420.6 415.1,421.3 415.3,420.6 415.2,420.8 415.7,421.2 415.2,421.2 414.5,421.2 415.3,421.9 415.1,421.4 414.3,421.4 414.5,421.8 414.3,422.1 414.3,422.1 414.4,422.0 414.3,422.6 413.2,422.4 413.6,422.6 413.5,422.7 413.0,423.3 412.9,423.3 413.3,423.3 412.7,423.8 412.6,423.9 412.0,423.5 412.4,423.2 412.5,423.4 412.0,423.6 412.3,424.5 412.0,424.8 411.8,425.5 411.2,425.4 411.7,425.8 411.6,426.3 410.5,426.6 411.1,428.0 410.5,428.1 410.2,428.8 410.4,428.4 409.5,429.5 409.8,430.3 410.4,430.3 411.1,431.0 411.4,431.5 412.1,432.3 412.4,432.8 412.7,434.3 412.7,433.9 413.0,435.2 413.3,435.7 413.6,436.3 414.4,436.9" fill="#fff" stroke="#1e1e1e" stroke-width="1.1"/><polygon points="411.7,441.9 411.6,441.7 411.2,441.2 411.0,441.1 410.7,442.0 410.4,441.4 409.3,441.1 409.5,441.1 409.3,440.5 408.5,441.3 408.2,440.8 407.3,440.3 407.2,441.0 407.5,440.2 407.2,439.9 406.5,440.8 405.9,440.7 405.9,439.6 405.2,440.0 404.8,440.2 404.4,440.2 405.0,437.9 405.7,436.4 406.0,437.3 406.3,437.0 406.0,437.2 406.4,437.5 406.8,437.5 407.3,437.4 408.0,437.3 407.8,438.3 408.3,438.2 409.2,438.0 408.7,437.6 409.8,437.7 409.8,438.8 409.7,439.4 410.2,440.1 410.9,440.5 411.0,441.2 411.7,441.9" fill="#fff" stroke="#1e1e1e" stroke-width="1.1"/><polygon points="403.8,441.8 403.1,441.4 402.8,442.1 402.7,442.1 401.8,442.1 402.0,441.9 401.7,441.8 401.0,441.8 400.6,441.2 400.1,441.3 400.2,441.1 400.3,440.8 399.6,440.9 399.1,441.4 398.8,440.6 397.8,441.1 398.1,440.4 397.2,441.0 396.9,440.6 396.4,440.6 396.1,440.0 395.6,440.4 394.5,439.9 395.1,439.5 396.3,437.7 396.6,436.5 396.9,436.6 397.5,437.5 398.7,437.4 398.6,437.1 399.3,437.6 399.8,437.4 399.6,437.4 400.8,437.6 400.3,437.6 400.9,437.0 401.9,437.6 402.0,437.1 402.4,438.0 402.8,437.8 402.9,438.6 402.9,438.9 403.4,440.0 403.7,440.2 404.0,441.1 403.8,441.8" fill="#fff" stroke="#1e1e1e" stroke-width="1.1"/><polygon points="414.2,449.4 414.2,448.8 413.8,449.3 412.6,449.2 412.1,448.3 411.9,448.2 411.5,448.8 411.2,447.9 410.5,447.4 410.5,446.7 410.2,446.2 410.0,445.2 410.7,445.9 410.7,445.5 411.6,445.6 411.1,445.1 411.5,444.5 412.7,444.7 412.9,444.6 413.0,444.1 413.3,444.6 413.8,445.3 413.4,446.6 414.2,448.0 414.2,449.4" fill="#fff" stroke="#1e1e1e" stroke-width="1.1"/><polygon points="416.8,449.0 416.4,448.8 415.3,448.2 414.7,447.8 414.4,446.7 414.7,446.3 413.4,446.3 413.4,445.8 412.7,444.9 412.8,444.0 412.4,442.8 412.6,442.9 412.7,442.8 412.7,443.9 413.4,443.8 413.5,443.4 413.8,443.7 415.0,443.8 414.9,444.3 415.8,444.1 415.3,444.1 416.0,445.7 416.1,446.7 416.7,447.6 416.8,449.0" fill="#fff" stroke="#1e1e1e" stroke-width="1.1"/><polygon points="425.8,464.4 426.6,465.1 427.8,465.4 428.0,466.4 428.4,466.7 429.9,466.9 430.5,467.6 431.8,468.0 432.5,467.6 433.1,468.8 434.9,470.7 433.4,470.6 433.2,470.2 432.4,471.1 432.0,470.8 431.5,471.0 430.6,471.3 430.5,471.8 429.6,472.0 428.3,471.7 427.8,470.9 426.5,469.7 426.0,469.8 425.4,468.7 423.9,468.3 425.1,467.0 425.3,466.0 425.2,464.9 425.8,464.4" fill="#fff" stroke="#1e1e1e" stroke-width="1.1"/><polygon points="434.9,471.5 434.0,471.6 434.1,472.4 432.6,471.9 432.8,472.0 431.5,472.4 430.6,472.4 431.2,471.2 432.0,469.8 432.0,470.9 433.1,471.2 434.2,471.5 434.9,471.5" fill="#fff" stroke="#1e1e1e" stroke-width="1.1"/><polygon points="409.8,433.1 409.3,432.8 409.5,433.2 409.0,433.6 409.0,433.2 408.2,434.0 408.1,433.4 408.0,433.5 407.8,433.3 407.6,434.0 406.8,434.5 406.4,433.8 405.9,434.2 406.4,434.4 405.7,434.6 405.3,432.8 405.8,432.3 405.7,430.7 406.2,430.2 406.6,430.4 406.2,429.9 407.0,429.6 406.5,430.1 407.2,429.5 407.6,429.7 407.2,428.9 407.4,428.8 408.1,429.2 408.5,428.7 408.5,428.5 408.6,428.6 409.3,428.4 408.8,429.5 409.7,430.5 410.0,432.2 409.8,433.1" fill="#fff" stroke="#1e1e1e" stroke-width="1.1"/><polygon points="401.0,435.0 400.8,435.4 400.2,435.5 399.2,435.4 399.3,435.3 398.4,434.8 398.3,435.7 397.4,435.1 396.9,435.0 396.9,436.0 396.6,435.3 395.9,435.2 395.6,435.7 394.1,436.2 393.7,436.0 393.1,436.4 393.1,437.0 393.1,436.7 393.8,435.7 394.9,435.5 395.2,435.5 395.6,435.4 396.2,435.1 397.4,434.4 397.1,434.4 397.7,433.7 398.6,432.9 399.2,433.9 399.5,433.8 399.8,434.3 399.9,434.8 401.1,435.0 401.0,435.0" fill="#fff" stroke="#1e1e1e" stroke-width="1.1"/><polygon points="410.7,449.6 410.8,449.5 410.4,449.2 409.4,449.3 408.9,449.9 408.8,449.7 408.0,449.4 407.6,449.5 406.9,450.0 406.8,449.6 406.4,448.6 406.3,446.9 406.6,446.0 407.5,446.0 407.8,446.0 408.0,445.6 407.6,444.9 408.0,445.5 409.1,445.0 409.0,444.6 409.3,444.7 410.5,445.6 409.7,446.7 410.3,448.8 410.7,449.6" fill="#fff" stroke="#1e1e1e" stroke-width="1.1"/><polygon points="415.0,448.7 414.9,448.7 413.7,448.3 413.3,449.1 413.2,449.3 413.3,449.1 412.4,449.1 411.6,448.4 412.1,447.5 411.7,445.9 411.5,445.4 412.6,445.4 413.3,444.7 413.4,444.6 413.9,445.0 413.5,444.0 414.0,444.6 414.6,443.9 415.4,444.6 415.0,445.3 415.5,447.3 415.0,448.7" fill="#fff" stroke="#1e1e1e" stroke-width="1.1"/><polygon points="412.3,458.6 411.3,458.3 411.4,458.9 410.7,458.5 409.9,458.0 410.1,458.0 408.7,458.2 408.2,457.6 409.1,456.8 409.7,455.6 410.0,455.0 410.8,455.1 411.1,455.6 411.8,456.0 411.6,457.4 412.3,458.6" fill="#fff" stroke="#1e1e1e" stroke-width="1.1"/><polygon points="426.8,444.4 426.6,444.5 425.6,445.0 425.6,444.1 424.8,445.2 424.4,444.6 424.6,445.1 424.0,445.0 422.9,444.3 423.7,443.3 423.1,442.5 423.7,443.4 424.1,443.1 425.3,443.0 425.7,442.6 425.2,442.3 426.3,442.3 426.8,444.4" fill="#fff" stroke="#1e1e1e" stroke-width="1.1"/><polygon points="395.6,437.4 395.7,437.5 394.4,437.5 394.0,437.0 393.5,437.1 393.9,437.1 392.5,436.8 392.9,436.6 392.5,436.2 392.3,436.2 391.5,435.2 392.8,434.4 393.5,433.0 394.1,433.2 394.4,434.3 394.4,433.7 395.0,434.0 395.2,434.1 396.2,434.7 395.9,434.4 396.7,435.4 396.4,435.8 395.6,437.4" fill="#fff" stroke="#1e1e1e" stroke-width="1.1"/><polygon points="414.4,431.2 414.0,431.2 414.2,431.1 413.8,432.2 413.7,431.2 412.7,431.5 413.2,432.1 412.7,432.1 412.3,432.4 412.4,432.9 412.2,432.9 412.1,433.0 411.6,432.3 411.3,433.3 410.8,433.4 410.1,432.2 410.1,430.7 409.5,429.0 409.3,427.8 409.3,427.8 410.4,427.9 410.6,427.9 410.7,428.0 410.8,427.1 410.5,427.1 410.4,426.7 411.6,427.3 411.2,427.0 411.9,427.0 412.2,427.2 411.8,428.1 412.3,428.5 412.7,429.0 413.8,429.1 413.7,430.2 414.1,431.1 414.4,431.2" fill="#fff" stroke="#1e1e1e" stroke-width="1.1"/><polygon points="405.5,438.1 405.1,438.4 405.1,438.4 404.1,437.4 404.0,438.1 403.4,437.2 403.9,437.9 403.0,437.2 403.3,437.3 403.8,436.5 403.6,435.1 403.7,435.8 404.2,435.5 405.3,436.0 405.2,436.2 405.5,436.4 405.4,435.9 405.5,438.1" fill="#fff" stroke="#1e1e1e" stroke-width="1.1"/><polygon points="487.4,488.7 486.5,486.6 486.1,485.0 485.2,483.6 485.3,482.1 484.0,480.5 484.0,478.5 484.2,477.2 484.6,475.8 485.8,476.5 487.2,477.7 488.3,478.5 489.5,479.6 490.9,480.0 492.1,479.6 493.0,479.4 495.1,479.3 496.3,479.5 498.0,479.6 498.1,482.4 497.7,483.0 496.3,483.6 494.9,483.5 493.6,484.5 492.5,485.0 491.9,485.5 490.8,486.2 490.0,486.6 489.3,487.1 488.2,488.3 487.4,488.7" fill="#fff" stroke="#1e1e1e" stroke-width="0.7"/><path d="M368.9,443.2 L368.9,443.5 L369.6,443.8 L369.3,444.3 L369.7,444.9 L370.2,445.4 L370.7,445.4 L370.8,446.7 L370.6,446.3 L371.3,446.5 L371.9,447.2 L372.1,446.8 L373.0,446.9 L373.2,447.3 L373.7,447.0 L374.4,447.5 L375.5,447.8 L375.1,447.5 L376.3,448.0 L376.9,448.5 L377.4,447.8 L378.0,448.3 L377.8,448.0 L378.9,448.2 L378.7,448.3 L379.8,448.9 L380.0,448.8 L380.0,449.4 L380.1,450.1 L380.7,450.0 L381.6,450.7 L381.2,450.6 L382.0,451.4 L381.8,451.7 L382.9,452.0 L382.9,452.2 L383.7,452.6 L383.6,453.0 L384.9,453.1 L385.2,453.0 L385.7,453.0 L385.5,453.7 L386.6,453.4 L386.5,453.6 L387.2,454.1 L387.5,455.0 L388.5,455.5 L388.9,455.6 L389.0,456.2 L389.8,456.1 L390.7,456.8 L391.2,457.2 L392.0,456.7 L392.8,457.0 L393.5,457.6 L393.4,458.2 L394.1,457.8 L394.8,458.2 L395.1,458.0 L395.8,458.6 L396.1,458.5 L396.9,458.5 L397.7,458.8 L397.8,458.5 L398.3,459.3 L398.9,458.5 L399.7,459.1 L400.6,458.7 L400.5,459.0 L401.3,459.4 L401.7,460.0 L402.5,460.1 L403.3,459.6 L403.8,459.9 L403.4,460.5 L404.0,459.7 L404.7,460.1 L405.9,460.8 L405.9,460.6 L406.9,460.9 L407.2,460.6 L407.2,460.3 L408.3,460.7 L409.0,461.0 L409.7,460.2 L409.3,460.9 L410.4,460.2 L411.0,459.8 L411.0,459.4 L411.8,459.3 L411.9,458.9 L412.7,457.3 L412.9,456.3 L412.5,454.6 L413.3,453.6 L413.5,451.7 L413.9,451.0 L413.8,451.6 L415.1,452.3 L415.1,453.9 L416.2,454.1 L416.8,455.4 L417.4,457.1 L417.6,457.7 L418.2,457.7 L418.5,457.5 L419.4,457.7 L419.6,457.7 L421.0,457.6 L420.9,457.7 L421.5,457.0 L422.0,456.8 L422.7,456.8 L422.8,456.8 L423.5,456.0 L423.6,455.0 L424.0,454.6 L424.0,454.5 L424.7,454.1 L425.8,454.6 L426.4,455.0 L426.7,454.4 L426.5,456.0 L427.5,457.0 L427.2,458.0 L427.7,460.0 L427.8,460.8 L427.6,461.6 L427.8,461.2 L426.5,462.4 L426.8,461.9 L425.7,462.6 L425.1,462.8 L424.8,462.9 L423.8,463.0 L424.0,464.4 L424.5,466.3 L424.2,467.8 L424.7,468.7 L423.9,469.0 L423.8,469.9 L422.4,470.0 L422.5,470.7 L422.0,471.1 L421.5,472.2 L420.2,472.4 L419.7,473.0 L419.7,473.6 L418.6,473.4 L418.5,475.3 L417.5,476.3 L417.4,477.6 L416.9,479.1 L416.0,480.7 L416.2,482.4 L415.6,483.7 L416.8,484.6 L418.2,486.2 L419.3,487.7 L420.0,488.4 L421.3,488.4 L421.6,488.4 L423.0,489.0 L423.8,489.2 L424.7,488.5 L425.1,489.0 L425.7,488.9 L426.5,488.3 L427.8,488.4 L429.1,489.3 L429.6,488.8 L430.2,489.2 L431.5,489.3 L432.6,489.6 L433.6,489.3 L433.9,489.7 L435.2,489.7 L436.4,489.7 L437.0,490.1 L438.3,490.5 L438.6,491.5 L439.7,493.3 L440.0,493.8 L440.4,495.7 L440.8,496.4 L442.8,498.1 L443.2,498.4 L445.0,499.1 L445.3,499.0 L446.8,498.2 L447.0,497.7 L446.4,497.0 L445.8,495.0 L446.0,493.5 L444.8,492.2 L444.3,491.3 L444.5,489.7 L444.3,489.4 L445.1,488.0 L445.3,487.0 L446.7,485.9 L445.2,485.3 L445.2,484.3 L444.1,483.1 L443.5,481.2 L442.7,480.5 L442.2,478.7 L441.0,478.3 L440.1,477.0 L439.6,475.2 L438.8,474.3 L439.1,472.4 L438.6,471.0 L437.4,469.9 L438.2,469.1 L438.9,469.5 L440.0,469.1 L439.8,469.1 L441.0,469.0 L442.0,468.2 L442.5,468.4 L442.8,468.1 L443.7,468.2 L444.6,468.1 L445.2,469.0 L446.3,468.8 L447.6,469.0 L448.2,470.2 L450.0,471.3 L451.2,472.1 L452.6,472.6 L453.4,472.8 L454.5,472.6 L455.1,472.8 L456.3,472.8 L456.4,472.2 L456.5,470.3 L456.7,469.7 L456.4,468.5 L455.9,467.6 L456.5,466.2 L457.9,467.3 L459.9,468.2 L460.9,468.5 L462.6,469.0 L464.3,469.7 L466.2,470.6 L466.9,471.2 L469.0,472.0 L470.2,472.9 L472.0,474.1 L473.0,474.1 L475.1,474.3 L476.6,474.9 L477.5,475.4 L479.3,474.9 L480.8,475.9 L482.4,475.9 L483.9,476.6 L484.1,477.1 L483.7,478.5 L484.3,480.1 L482.9,481.1 L482.3,481.6 L482.1,482.5 L481.6,482.7 L481.1,484.2 L480.6,484.3 L479.3,485.3 L479.1,485.3 L478.4,486.7 L477.2,486.6 L476.7,487.7 L475.4,487.6 L474.7,488.6 L473.7,488.9 L473.2,489.6 L472.1,490.4 L472.1,490.5 L471.6,491.3 L471.3,492.8 L470.8,494.3 L470.0,495.5 L469.5,495.8 L469.3,497.9 L470.4,497.2 L470.8,496.4 L471.5,494.9 L472.3,494.8 L472.8,493.9 L473.3,492.8 L474.1,492.3 L475.2,491.5 L475.7,491.5 L477.4,493.6 L477.8,494.8 L479.6,496.2 L481.2,498.4 L481.9,497.7 L483.5,497.5 L484.6,497.1 L485.2,496.9 L486.9,495.7 L487.0,494.5 L486.2,492.6 L487.0,491.7 L488.0,492.5 L490.1,494.1 L489.3,494.9 L488.7,495.4 L488.1,496.7 L488.1,497.6 L487.1,498.6 L486.4,499.6 L486.1,501.2 L485.3,502.3 L484.9,504.1 L484.3,505.2 L483.6,505.7 L482.6,504.4 L481.1,503.1 L480.6,502.8 L479.7,503.3 L479.2,504.5" fill="none" stroke="#1e1e1e" stroke-width="1.0"/><path d="M356.1,483.4 L355.0,486.7 L356.0,490.4 L355.0,494.0 L356.1,495.9 L357.3,497.8 L359.1,500.8 L359.8,502.9" fill="none" stroke="#1e1e1e" stroke-width="0.6"/><polygon points="353.0,494.3 354.2,496.8 355.4,499.2 356.5,501.4 357.7,503.6 358.9,504.4 357.8,499.0 356.1,497.5 354.6,495.9 353.0,494.3" fill="#fff" stroke="#1e1e1e" stroke-width="0.5"/><polygon points="350.8,482.1 352.7,483.9 350.8,487.7 350.8,482.1" fill="#fff" stroke="#1e1e1e" stroke-width="0.5"/><path d="M353.0,464.1 L354.2,465.0 L355.3,465.8 L356.5,466.6 L357.7,467.3 L358.9,468.1 L360.2,468.8 L361.4,469.5 L362.6,470.2 L363.9,470.9 L365.2,471.6 L366.5,472.2 L367.8,472.8 L369.1,473.4 L370.4,474.0 L371.8,474.6 L373.1,475.1 L374.5,475.6 L375.8,476.1 L377.2,476.6 L378.9,477.0 L380.5,477.4 L382.2,477.8 L383.9,478.2 L385.6,478.6 L387.3,478.9 L389.0,479.2 L390.7,479.5 L392.1,479.8 L393.6,480.0 L395.0,480.2 L396.5,480.4 L397.9,480.6 L399.4,480.8 L400.8,480.9 L402.3,481.0 L403.8,481.1 L405.2,481.1 L406.8,481.2 L408.3,481.2 L409.9,481.1 L411.4,481.1 L413.0,481.0 L414.5,480.9 L416.1,480.8 M377.2,476.6 L376.2,479.2 L375.1,481.8 L374.1,484.4 L373.0,487.1 L372.0,489.8 L370.9,492.4 L372.2,494.7 L373.6,496.9 L375.3,500.3 L377.1,503.6 L379.1,508.4 M393.6,480.0 L393.1,482.7 L392.5,485.3 L392.0,488.0 L391.5,490.7 L391.0,493.4 L390.5,496.1 L390.0,498.8 L389.4,501.6 L388.9,504.4 L388.4,507.1 L387.8,509.9 M405.2,481.1 L405.1,483.8 L405.0,486.5 L404.9,489.2 L404.8,492.0 L404.7,494.7 L404.6,497.5 L404.5,500.2 L404.4,503.0 L404.3,505.8 L404.2,508.6 L404.1,511.5 M418.1,511.2 L417.7,507.6 L417.4,504.0 L417.1,500.5 L418.8,498.5 L420.4,496.5 L421.9,494.4 L423.3,492.4 L424.7,490.3 L426.0,488.2 M372.1,446.0 L371.1,448.5 L370.1,451.1 L369.2,453.7 L368.3,456.3 L368.1,458.9 L368.0,461.5 L367.9,464.2 L368.0,466.9 L368.7,468.4 L369.4,470.0 L370.1,471.5 L370.9,473.0 L371.8,474.6 M446.5,498.1 L447.7,501.1 L448.9,504.1 L450.2,507.1 L451.4,510.1 L454.3,510.6 L457.3,511.1 L460.3,511.5 L464.0,511.5 M482.9,477.9 L481.1,479.1 L479.2,480.2 L477.3,481.3 L475.4,482.3 L473.5,483.3 L471.6,484.2 L469.8,484.9 L468.0,485.4 L466.1,486.0 L464.1,483.1 L462.0,480.2 L461.0,477.3 L459.9,474.5 L458.8,471.7 L457.6,468.9 L456.5,466.2 M472.7,498.9 L474.6,496.1" stroke="#7a7a7a" stroke-width="0.75" fill="none"/><path d="M356.3,554.7 L356.2,558.1 L358.3,562.7 L361.1,568.8 L361.3,572.0 L366.2,577.5 L366.8,583.0 L370.7,589.8 L374.2,590.7 L373.0,587.6 L370.9,585.5 L370.2,581.8 L369.6,578.2 L368.4,574.4 L367.1,570.7 L366.2,567.1 L365.4,563.5 L362.8,559.3 M362.8,559.3 L368.3,561.8 L369.4,565.7 L370.5,569.6 L373.6,575.4 L376.6,581.1 L380.5,585.2 L384.9,592.1 L386.2,596.2 L387.6,600.4 L387.8,606.0 L392.1,608.8 L396.4,611.5 L400.3,613.1 L404.3,614.8 L408.3,616.3 M418.0,583.4 L416.4,590.3 L416.9,593.8 L417.4,597.4 L419.6,602.8 L423.8,608.2 L429.9,610.8 L434.8,609.5 L439.5,608.2 L444.7,604.0 L443.7,598.6 L448.1,596.9 L452.5,595.2 L456.1,594.4 M388.5,562.9 L392.0,566.2 L395.6,569.4" stroke="#3a3a3a" stroke-width="0.55" fill="none"/><polygon points="463.3,591.3 465.0,589.8 467.0,588.4 468.4,587.2 470.3,585.2 472.2,584.2 473.6,583.7 475.7,583.1 477.1,582.6 478.9,582.3 481.1,582.8 482.8,582.8 485.3,583.3 487.2,583.5 489.2,583.9 491.8,583.6 494.0,583.6 496.9,584.0 498.6,583.9 501.0,584.2 503.1,584.6 501.3,585.3 499.8,586.4 497.7,587.2 495.8,588.3 494.2,589.0 492.1,590.0 489.8,589.7 487.6,588.8 485.2,588.5 482.8,587.8 480.5,586.8 478.7,587.4 476.8,587.3 474.9,587.5 473.4,587.9 471.7,588.3 469.4,589.1 467.1,589.9 465.3,590.3 463.3,591.3" fill="none" stroke="#1a1a1a" stroke-width="0.9"/><path d="M477.3,569.3 L481.7,566.9 L483.9,567.6 L485.1,572.8 M482.0,573.2 L485.0,576.7 L486.1,577.4 M487.2,570.8 L490.1,572.8 L493.9,575.1 M493.1,576.6 L496.7,576.6 M499.0,576.4 L502.9,579.1 M505.0,576.9 L509.2,576.2" stroke="#1a1a1a" stroke-width="1.0" fill="none"/></g><clipPath id="akp"><polygon points="328.4,435.9 330.3,434.6 334.0,435.6 337.9,435.2 341.7,434.0 343.0,430.8 345.5,430.2 348.7,432.1 349.9,434.0 351.8,430.2 353.1,428.6 356.9,428.9 360.7,430.8 364.5,434.0 368.2,439.0 370.8,444.1 353.1,462.4 350.6,458.6 346.8,456.7 341.7,456.1 338.0,457.2 334.1,456.7 330.3,455.4 326.5,452.3 325.3,451.0 329.1,449.1 329.7,445.3 327.8,442.2 329.1,439.0"/></clipPath><polygon points="328.4,435.9 330.3,434.6 334.0,435.6 337.9,435.2 341.7,434.0 343.0,430.8 345.5,430.2 348.7,432.1 349.9,434.0 351.8,430.2 353.1,428.6 356.9,428.9 360.7,430.8 364.5,434.0 368.2,439.0 370.8,444.1 353.1,462.4 350.6,458.6 346.8,456.7 341.7,456.1 338.0,457.2 334.1,456.7 330.3,455.4 326.5,452.3 325.3,451.0 329.1,449.1 329.7,445.3 327.8,442.2 329.1,439.0" fill="#fff"/><g clip-path="url(#akp)"><rect x="320" y="420" width="60" height="45" fill="#a7da96"/><polygon points="352,420 380,420 380,446 369,442 365,436 360,433 354,431" fill="#a9a9a9"/><polygon points="362,446 371,444 356,462 350,458" fill="#bfe4b0"/><path d="M334,440 L340,438 M345,447 L349,446 M338,452 L344,451" stroke="#3a7a3a" stroke-width="0.6" stroke-opacity="0.7"/><polygon points="322,451 352,456 356,466 330,462" fill="#7a5a30"/></g><polygon points="328.4,435.9 330.3,434.6 334.0,435.6 337.9,435.2 341.7,434.0 343.0,430.8 345.5,430.2 348.7,432.1 349.9,434.0 351.8,430.2 353.1,428.6 356.9,428.9 360.7,430.8 364.5,434.0 368.2,439.0 370.8,444.1 353.1,462.4 350.6,458.6 346.8,456.7 341.7,456.1 338.0,457.2 334.1,456.7 330.3,455.4 326.5,452.3 325.3,451.0 329.1,449.1 329.7,445.3 327.8,442.2 329.1,439.0" fill="none" stroke="#2a2a2a" stroke-width="0.6"/><path d="M331,417.5 L336,416.5 L340,417 M339,418 L337,422 L341,424 M344,416 L342,421 M347,422 L346,425 M333,426 L334,427 M322,433 L323,434" stroke="#222" stroke-width="0.8" fill="none"/><path d="M305.2,434.6 Q311,441 316,444.5 Q320,447.5 325,450.6" stroke="#2a2a2a" stroke-width="1.1" fill="none"/><polygon points="353.1,462.4 356.0,463.5 357.0,468.0 357.5,474.0 358.3,481.0 358.5,487.0 356.5,489.0 355.0,483.0 353.0,476.0 351.5,468.0 351.5,464.0" fill="#2e1d12"/><path d="M354,466 L355,470 M356,478 L357,482 M352,470 L353,473" stroke="#d8902f" stroke-width="0.9" fill="none"/><clipPath id="usp"><polygon points="356.2,503.4 359.8,502.9 361.7,503.7 363.6,504.3 365.5,505.0 367.7,505.6 369.9,506.2 372.1,506.8 374.4,507.3 376.6,507.8 378.9,508.3 381.1,508.7 383.4,509.2 385.5,509.5 387.5,509.9 389.5,510.2 391.5,510.5 393.6,510.7 395.6,510.9 397.6,511.1 399.7,511.3 401.7,511.4 403.8,511.5 405.8,511.5 407.9,511.5 409.9,511.5 411.9,511.5 414.0,511.4 416.0,511.3 418.1,511.2 418.0,510.0 419.3,511.9 422.6,511.9 425.9,512.9 429.9,512.6 432.2,511.3 434.9,512.1 437.8,512.9 440.6,513.6 442.4,514.3 441.0,516.5 438.8,519.1 436.0,520.0 439.1,517.9 441.7,516.6 445.1,517.6 446.1,520.1 449.1,523.2 448.7,526.5 450.4,526.9 453.7,525.3 455.9,523.0 456.6,519.9 459.0,517.6 461.4,515.2 463.2,511.9 465.5,510.9 467.8,509.8 470.1,508.7 470.9,507.0 470.4,502.9 470.6,500.3 472.6,499.5 473.8,499.7 476.1,503.1 479.2,504.5 477.3,507.6 474.9,511.0 475.5,513.7 475.3,515.2 478.2,515.4 475.9,518.0 472.9,520.1 471.3,522.9 472.2,524.5 471.7,528.5 470.8,530.2 471.7,534.9 475.5,539.6 472.4,542.9 469.5,546.8 467.0,551.4 464.5,555.0 465.5,560.2 470.2,565.5 474.2,570.3 475.1,574.5 473.3,576.5 469.2,574.1 464.7,569.3 462.7,565.6 459.0,563.5 456.9,564.0 454.0,565.4 450.1,563.9 445.3,563.9 441.0,566.4 442.5,569.2 438.5,570.2 433.6,569.5 427.8,569.8 424.8,571.5 419.9,574.8 417.2,577.7 417.0,581.5 418.0,583.4 411.3,581.7 409.9,578.2 406.0,572.5 403.8,570.4 400.6,570.3 398.3,572.9 393.9,570.7 391.2,566.8 388.5,562.9 383.4,562.3 383.1,563.9 378.7,563.3 374.3,562.5 370.8,560.6 367.2,558.5 363.6,556.4 364.1,555.9 360.2,555.3 356.3,554.7 356.4,552.4 353.7,549.6 351.5,547.4 348.2,545.3 348.4,542.6 347.3,538.2 347.3,534.2 346.7,532.3 346.8,527.3 346.7,525.3 348.8,521.5 349.2,518.4 352.7,514.0 354.9,509.8 356.0,506.7 356.2,503.4"/></clipPath><g clip-path="url(#usp)"><polygon points="356.2,503.4 359.8,502.9 361.7,503.7 363.6,504.3 365.5,505.0 367.7,505.6 369.9,506.2 372.1,506.8 374.4,507.3 376.6,507.8 378.9,508.3 381.1,508.7 383.4,509.2 385.5,509.5 387.5,509.9 389.5,510.2 391.5,510.5 393.6,510.7 395.6,510.9 397.6,511.1 399.7,511.3 401.7,511.4 403.8,511.5 405.8,511.5 407.9,511.5 409.9,511.5 411.9,511.5 414.0,511.4 416.0,511.3 418.1,511.2 418.0,510.0 419.3,511.9 422.6,511.9 425.9,512.9 429.9,512.6 432.2,511.3 434.9,512.1 437.8,512.9 440.6,513.6 442.4,514.3 441.0,516.5 438.8,519.1 436.0,520.0 439.1,517.9 441.7,516.6 445.1,517.6 446.1,520.1 449.1,523.2 448.7,526.5 450.4,526.9 453.7,525.3 455.9,523.0 456.6,519.9 459.0,517.6 461.4,515.2 463.2,511.9 465.5,510.9 467.8,509.8 470.1,508.7 470.9,507.0 470.4,502.9 470.6,500.3 472.6,499.5 473.8,499.7 476.1,503.1 479.2,504.5 477.3,507.6 474.9,511.0 475.5,513.7 475.3,515.2 478.2,515.4 475.9,518.0 472.9,520.1 471.3,522.9 472.2,524.5 471.7,528.5 470.8,530.2 471.7,534.9 475.5,539.6 472.4,542.9 469.5,546.8 467.0,551.4 464.5,555.0 465.5,560.2 470.2,565.5 474.2,570.3 475.1,574.5 473.3,576.5 469.2,574.1 464.7,569.3 462.7,565.6 459.0,563.5 456.9,564.0 454.0,565.4 450.1,563.9 445.3,563.9 441.0,566.4 442.5,569.2 438.5,570.2 433.6,569.5 427.8,569.8 424.8,571.5 419.9,574.8 417.2,577.7 417.0,581.5 418.0,583.4 411.3,581.7 409.9,578.2 406.0,572.5 403.8,570.4 400.6,570.3 398.3,572.9 393.9,570.7 391.2,566.8 388.5,562.9 383.4,562.3 383.1,563.9 378.7,563.3 374.3,562.5 370.8,560.6 367.2,558.5 363.6,556.4 364.1,555.9 360.2,555.3 356.3,554.7 356.4,552.4 353.7,549.6 351.5,547.4 348.2,545.3 348.4,542.6 347.3,538.2 347.3,534.2 346.7,532.3 346.8,527.3 346.7,525.3 348.8,521.5 349.2,518.4 352.7,514.0 354.9,509.8 356.0,506.7 356.2,503.4" fill="#acdc9b"/><polygon points="342.6,493.1 457.8,497.8 447.3,511.7 436.8,531.6 416.9,528.7 400.5,521.3 384.0,514.0 364.1,510.3 352.5,511.7" fill="#bde4ad"/><polygon points="401.2,505.2 441.0,507.1 439.6,522.7 432.6,525.7 415.9,524.8 401.5,516.4" fill="#8fd27e"/><polygon points="384.0,514.0 400.5,521.3 416.9,528.7 434.7,530.8 436.3,516.9 454.6,515.9 451.0,532.2 441.5,547.1 431.1,558.3 414.8,567.6 407.5,574.1 397.0,577.9 384.5,581.6 374.0,544.3" fill="#a9a9a9"/><polygon points="452.9,516.9 470.3,501.5 477.7,500.8 480.8,509.5 471.4,521.1 464.4,527.2 449.4,529.4" fill="#a9a9a9"/><polygon points="342.6,511.7 352.5,515.5 364.1,510.3 384.0,512.5 397.1,519.8 412.0,530.1 422.0,537.4 425.3,543.4 426.4,549.0 416.9,559.5 405.4,571.3 397.1,572.7 392.2,568.4 369.1,559.5 342.6,535.0" fill="#f1d38c"/><polygon points="342.6,527.2 355.8,525.7 364.1,530.1 367.4,544.8 369.1,558.0 364.1,556.6 352.5,547.8 342.6,538.9" fill="#a9a9a9"/><polygon points="349.2,521.3 350.9,518.4 375.7,515.5 388.9,518.4 398.8,527.2 412.0,536.0 415.4,541.9 413.7,546.3 408.8,553.6 405.4,559.5 402.1,565.4 392.2,566.9 378.9,562.5 375.7,553.6 370.7,541.9 364.1,527.2 352.5,524.2" fill="#e0a448"/><polygon points="364.6,527.2 368.2,527.2 373.0,541.5 378.2,559.2 375.6,559.2 369.8,542.5" fill="#f1d38c"/><ellipse cx="398.8" cy="552.9" rx="4.8" ry="4.4" fill="#c46d36"/><ellipse cx="398.8" cy="552.9" rx="2.4" ry="2.2" fill="#94482a"/><polygon points="457.8,518.3 470.3,518.3 474.5,530.4 474.5,553.6 464.1,556.4 453.6,549.0 451.5,533.2" fill="#8fd27e"/><polygon points="461.1,537.4 470.3,535.0 474.5,553.6 466.2,555.5 459.9,547.1" fill="#42b04c"/><polygon points="464.4,561.0 469.3,560.2 474.5,568.5 476.6,576.9 470.3,578.8 463.0,569.5" fill="#a9a9a9"/><ellipse cx="471.9" cy="573.2" rx="3.2" ry="3" fill="#dfae5e"/><path d="M354.9,509.8 L356.8,511.5 L360.2,513.5 L362.4,513.9 L364.9,514.2 L367.5,514.7 L370.0,515.2 M372.5,506.9 L371.3,510.4 L370.1,514.0 L370.0,515.2 L370.5,516.9 L369.1,518.0 L368.2,519.9 L367.1,523.2 L366.0,526.5 M374.7,507.4 L373.8,510.2 L375.8,512.1 L376.8,514.9 L377.7,519.9 L379.8,522.1 L383.0,522.4 L382.2,526.0 L381.5,529.6 L380.8,532.6 L383.3,533.0 L385.7,533.4 L388.2,533.7 L390.7,534.0 L393.2,534.3 L395.6,534.5 L398.1,534.7 L400.6,534.8 L403.1,534.9 L403.0,537.9 M348.8,520.9 L351.1,521.8 L353.4,522.6 L355.6,523.4 L357.9,524.2 L360.5,525.0 L363.1,525.7 L365.7,526.4 L368.4,527.0 L371.0,527.6 L373.7,528.2 L376.4,528.7 L379.0,529.2 L381.5,529.6 M383.3,520.9 L385.5,521.3 L387.8,521.6 L390.0,521.9 L392.3,522.2 L394.5,522.5 L396.8,522.7 L399.0,522.8 M358.3,524.4 L357.2,527.2 L356.1,530.0 L354.9,532.9 L357.0,536.1 L359.2,539.3 L361.4,542.4 L363.8,545.6 L366.3,548.8 L365.5,551.9 L364.1,555.9 M373.8,528.2 L372.8,531.7 L371.9,535.1 L370.9,538.6 L370.0,542.2 L369.0,545.8 L366.4,548.8 M369.7,543.0 L372.7,543.6 L375.6,544.2 L378.3,544.7 L381.0,545.1 L383.7,545.5 L386.4,545.9 L389.1,546.2 L391.9,546.5 L394.6,546.7 L397.3,546.9 L400.0,547.1 M385.7,533.4 L385.2,536.6 L384.6,539.9 L384.1,543.2 L383.5,546.5 L382.9,549.8 L382.3,553.2 L381.7,556.6 L381.1,560.1 L380.5,563.5 M399.9,511.3 L399.7,514.1 L399.5,517.0 L399.2,519.9 L399.0,522.8 L398.8,525.7 L398.6,528.7 L398.3,531.7 L398.1,534.7 L400.6,534.8 L403.1,534.9 M399.2,520.1 L401.6,520.2 L404.0,520.3 L406.3,520.3 L408.7,520.4 L411.1,520.3 L413.4,520.3 L415.8,520.1 M413.9,511.4 L414.5,514.3 L415.1,517.2 L415.8,520.1 L416.2,523.7 L416.5,527.3 L416.6,530.3 L418.7,535.8 L420.2,537.6 M398.6,528.7 L401.2,528.8 L403.8,528.9 L406.5,529.0 L409.1,529.0 L411.8,529.0 L414.2,529.6 L416.6,530.3 M416.5,527.3 L419.0,527.1 L421.4,526.9 L423.9,526.7 L426.3,526.4 L428.8,526.1 M403.0,537.9 L405.8,538.0 L408.7,538.0 L411.6,538.0 L414.4,537.9 L417.3,537.8 L420.2,537.6 L422.2,540.2 L422.6,544.2 L423.1,548.2 L423.7,552.7 L424.4,557.2 L425.9,559.1 L426.3,562.7 L426.7,566.3 L427.1,569.9 M403.0,537.9 L402.9,541.0 L402.7,544.1 L402.6,547.2 M402.6,547.2 L405.5,547.2 L408.4,547.3 L411.3,547.2 L414.2,547.2 L417.1,547.0 L420.0,546.9 L422.9,546.6 M400.0,547.1 L399.9,548.6 L402.7,548.7 L405.5,548.8 L408.2,548.8 L408.2,555.0 L411.1,555.6 L414.0,556.3 L416.9,556.9 L420.7,557.1 L424.4,557.2 M399.9,548.6 L399.8,552.2 L399.5,555.8 L399.3,559.4 L399.1,563.0 L395.5,562.8 L391.9,562.5 L388.3,562.2 M423.1,548.2 L426.1,547.9 L429.1,547.5 L432.2,547.1 L435.2,546.7 L435.6,548.2 L436.7,548.0 M425.9,559.1 L430.0,558.7 L434.2,558.1 L434.2,561.4 L434.1,564.8 L439.7,563.9 L441.0,566.4 M434.2,558.1 L435.2,554.7 L436.1,551.4 L436.7,548.0 L437.4,544.7 L433.7,539.7 L429.7,534.7 L430.7,528.8 L428.8,526.1 L424.4,522.2 L425.1,518.8 L425.5,517.0 M435.7,551.4 L438.5,551.0 L441.2,550.5 L444.0,549.9 L446.8,549.3 L449.6,548.7 L452.3,548.0 L455.6,547.1 L458.6,546.1 L461.7,545.0 L465.5,545.9 L469.5,546.8 M441.5,550.4 L442.2,554.0 L442.9,557.7 L443.6,561.4 L444.3,565.1 M448.7,548.9 L450.2,551.8 L451.6,554.8 L453.1,557.8 L454.0,561.0 L450.1,561.9 L446.2,562.7 L447.1,564.9 M454.0,561.0 L454.6,561.9 L458.7,561.0 L462.8,560.0 L464.7,559.1 M418.7,535.8 L421.5,535.6 L424.2,535.4 L427.0,535.1 L429.7,534.7 M430.7,528.8 L434.0,528.3 L437.3,527.6 M429.0,516.8 L431.8,517.6 L434.6,518.2 L436.0,520.0 M438.6,529.8 L439.5,533.8 L440.5,537.8 L439.8,541.8 M437.4,544.7 L440.0,542.7 L442.6,541.4 L445.1,540.0 L447.3,536.0 L450.3,536.3 L453.5,536.6 L454.9,533.6 L456.0,528.7 M438.6,529.8 L441.8,529.1 L445.0,528.4 L448.1,527.6 M445.0,528.4 L446.1,532.2 L447.3,536.0 M454.7,524.7 L455.9,527.9 L457.2,531.2 L460.0,530.2 L462.9,529.2 L465.7,528.2 L468.4,527.1 L470.2,530.6 L472.0,529.9 M436.9,546.1 L439.9,545.6 L442.9,545.0 L445.9,544.3 L448.8,543.6 L451.8,542.9 L454.7,542.1 L457.6,541.2 L460.7,540.3 L463.7,539.3 L466.7,538.3 L469.6,537.2 L472.6,536.1 M457.6,541.2 L454.4,539.2 L453.5,536.6 M452.3,548.0 L455.0,544.6 L457.6,541.2 M455.6,547.1 L458.4,549.6 L461.4,552.2 L464.4,554.7 M457.0,539.4 L460.2,537.4 L461.1,533.9 L462.8,530.6 L464.5,530.0 L466.7,530.5 L469.6,532.4 M456.1,523.3 L456.4,524.1 L458.9,523.2 L461.4,522.3 L463.8,521.4 L466.2,520.4 L467.7,521.8 L468.7,521.5 L471.0,521.7 M468.7,521.5 L470.1,525.4 L469.4,527.4 M466.4,510.5 L468.1,513.4 L469.7,516.4 L470.3,518.5 L471.9,521.3 M470.1,508.7 L470.8,512.2 L471.5,515.6 L469.9,516.4 M471.5,515.6 L474.6,514.1 M470.4,518.6 L472.7,517.5 L474.9,516.4 M470.4,507.6 L472.5,510.2 L474.7,512.8 M474.1,516.9 L475.2,518.7" stroke="#2a3a20" stroke-width="0.7" stroke-opacity="0.55" fill="none"/></g><polygon points="356.2,503.4 359.8,502.9 361.7,503.7 363.6,504.3 365.5,505.0 367.7,505.6 369.9,506.2 372.1,506.8 374.4,507.3 376.6,507.8 378.9,508.3 381.1,508.7 383.4,509.2 385.5,509.5 387.5,509.9 389.5,510.2 391.5,510.5 393.6,510.7 395.6,510.9 397.6,511.1 399.7,511.3 401.7,511.4 403.8,511.5 405.8,511.5 407.9,511.5 409.9,511.5 411.9,511.5 414.0,511.4 416.0,511.3 418.1,511.2 418.0,510.0 419.3,511.9 422.6,511.9 425.9,512.9 429.9,512.6 432.2,511.3 434.9,512.1 437.8,512.9 440.6,513.6 442.4,514.3 441.0,516.5 438.8,519.1 436.0,520.0 439.1,517.9 441.7,516.6 445.1,517.6 446.1,520.1 449.1,523.2 448.7,526.5 450.4,526.9 453.7,525.3 455.9,523.0 456.6,519.9 459.0,517.6 461.4,515.2 463.2,511.9 465.5,510.9 467.8,509.8 470.1,508.7 470.9,507.0 470.4,502.9 470.6,500.3 472.6,499.5 473.8,499.7 476.1,503.1 479.2,504.5 477.3,507.6 474.9,511.0 475.5,513.7 475.3,515.2 478.2,515.4 475.9,518.0 472.9,520.1 471.3,522.9 472.2,524.5 471.7,528.5 470.8,530.2 471.7,534.9 475.5,539.6 472.4,542.9 469.5,546.8 467.0,551.4 464.5,555.0 465.5,560.2 470.2,565.5 474.2,570.3 475.1,574.5 473.3,576.5 469.2,574.1 464.7,569.3 462.7,565.6 459.0,563.5 456.9,564.0 454.0,565.4 450.1,563.9 445.3,563.9 441.0,566.4 442.5,569.2 438.5,570.2 433.6,569.5 427.8,569.8 424.8,571.5 419.9,574.8 417.2,577.7 417.0,581.5 418.0,583.4 411.3,581.7 409.9,578.2 406.0,572.5 403.8,570.4 400.6,570.3 398.3,572.9 393.9,570.7 391.2,566.8 388.5,562.9 383.4,562.3 383.1,563.9 378.7,563.3 374.3,562.5 370.8,560.6 367.2,558.5 363.6,556.4 364.1,555.9 360.2,555.3 356.3,554.7 356.4,552.4 353.7,549.6 351.5,547.4 348.2,545.3 348.4,542.6 347.3,538.2 347.3,534.2 346.7,532.3 346.8,527.3 346.7,525.3 348.8,521.5 349.2,518.4 352.7,514.0 354.9,509.8 356.0,506.7 356.2,503.4" fill="none" stroke="#222" stroke-width="0.7"/><text x="345" y="442" text-anchor="middle" style="font-size:5px;font-family:Liberation Sans,sans-serif;fill:#1a4a1a">A</text><text x="354" y="458" text-anchor="middle" style="font-size:5px;font-family:Liberation Sans,sans-serif;fill:#333">B</text><text x="361" y="535" text-anchor="middle" style="font-size:5px;font-family:Liberation Sans,sans-serif;fill:#222">N</text><text x="405" y="513" text-anchor="middle" style="font-size:5px;font-family:Liberation Sans,sans-serif;fill:#1a4a1a">A</text><text x="417" y="538" text-anchor="middle" style="font-size:5px;font-family:Liberation Sans,sans-serif;fill:#222">N</text><clipPath id="noaap"><circle cx="305.7" cy="569.3" r="9.7"/></clipPath><circle cx="305.7" cy="569.3" r="10.7" fill="#e3e8f0"/><circle cx="305.7" cy="569.3" r="9.7" fill="#1b74c6"/><g clip-path="url(#noaap)"><path d="M294,558 L318,558 L318,564.2 Q311,569.8 304.3,573.6 Q299,570.3 294,566.3 Z" fill="#ffffff"/><path d="M296.8,559 L315.3,559 Q310.5,566.5 304.8,571.4 Q300,566.8 296.8,559 Z" fill="#1c1f6e"/></g><rect x="301.5" y="563.5" width="8" height="1.6" fill="#b8c0e0" opacity="0.8"/><text x="295.2" y="587.5" class="mono" textLength="53" lengthAdjust="spacingAndGlyphs">6-10 DAY OUTLOOK</text><text x="295.2" y="591.1" class="mono" textLength="80" lengthAdjust="spacingAndGlyphs">PRECIPITATION PROBABILITY</text><text x="295.2" y="594.9" class="mono" textLength="53.5" lengthAdjust="spacingAndGlyphs">MADE 8 SEP 2019</text><text x="295.2" y="598.8" class="mono" textLength="81" lengthAdjust="spacingAndGlyphs">VALID SEP 14 - 18, 2019</text><text x="418" y="590.2" class="mono2" textLength="89.7" lengthAdjust="spacingAndGlyphs">SHADED BLACK LINES INDICATE PROBABILITY</text><text x="418" y="592.8" class="mono2" textLength="78" lengthAdjust="spacingAndGlyphs">OF 33% TO SHADED AREAS ARE FOR</text><text x="418" y="596.9" class="mono2" textLength="95.5" lengthAdjust="spacingAndGlyphs">VALUES ABOVE 33% OR BELOW 33% NORMAL</text><text x="418" y="600.2" class="mono2" textLength="69.2" lengthAdjust="spacingAndGlyphs">WHITE AREAS ARE NEAR-NORMAL</text></g><rect x="542.30" y="604.5" width="14.72" height="9.2" fill="#4b2a2a"/><rect x="556.72" y="604.5" width="14.72" height="9.2" fill="#8a4412"/><rect x="571.14" y="604.5" width="14.72" height="9.2" fill="#a3503a"/><rect x="585.56" y="604.5" width="14.72" height="9.2" fill="#b8602f"/><rect x="599.98" y="604.5" width="14.72" height="9.2" fill="#c97a35"/><rect x="614.40" y="604.5" width="14.72" height="9.2" fill="#e0a040"/><rect x="628.82" y="604.5" width="14.72" height="9.2" fill="#f0d288"/><rect x="643.24" y="604.5" width="14.72" height="9.2" fill="#b4b4b4"/><rect x="657.66" y="604.5" width="14.72" height="9.2" fill="#b2e0a2"/><rect x="672.08" y="604.5" width="14.72" height="9.2" fill="#86d272"/><rect x="686.50" y="604.5" width="14.72" height="9.2" fill="#46b244"/><rect x="700.92" y="604.5" width="14.72" height="9.2" fill="#2f8260"/><rect x="715.34" y="604.5" width="14.72" height="9.2" fill="#13a03a"/><rect x="729.76" y="604.5" width="14.72" height="9.2" fill="#22633f"/><rect x="744.18" y="604.5" width="14.72" height="9.2" fill="#17521e"/><text x="556.7" y="617.6" class="ml" text-anchor="middle">90%</text><text x="571.1" y="617.6" class="ml" text-anchor="middle">80%</text><text x="585.6" y="617.6" class="ml" text-anchor="middle">70%</text><text x="600.0" y="617.6" class="ml" text-anchor="middle">60%</text><text x="614.4" y="617.6" class="ml" text-anchor="middle">50%</text><text x="628.8" y="617.6" class="ml" text-anchor="middle">40%</text><text x="643.2" y="617.6" class="ml" text-anchor="middle">33%</text><text x="657.7" y="617.6" class="ml" text-anchor="middle">33%</text><text x="672.1" y="617.6" class="ml" text-anchor="middle">40%</text><text x="686.5" y="617.6" class="ml" text-anchor="middle">50%</text><text x="700.9" y="617.6" class="ml" text-anchor="middle">60%</text><text x="715.3" y="617.6" class="ml" text-anchor="middle">70%</text><text x="729.8" y="617.6" class="ml" text-anchor="middle">80%</text><text x="744.2" y="617.6" class="ml" text-anchor="middle">90%</text><text x="593.5" y="625.1" class="ml2" text-anchor="middle" textLength="37.6" lengthAdjust="spacingAndGlyphs">Probability of Below</text><text x="708.9" y="625.1" class="ml2" text-anchor="middle" textLength="37.6" lengthAdjust="spacingAndGlyphs">Probability of Above</text><text x="651.9" y="624.3" class="ml3" text-anchor="middle" textLength="8.7" lengthAdjust="spacingAndGlyphs">Normal</text><path d="M642.5,620.0 L642.5,627.5 M657.7,620.0 L657.7,627.5" stroke="#9a9a9a" stroke-width="0.6"/></svg>
</body></html>
